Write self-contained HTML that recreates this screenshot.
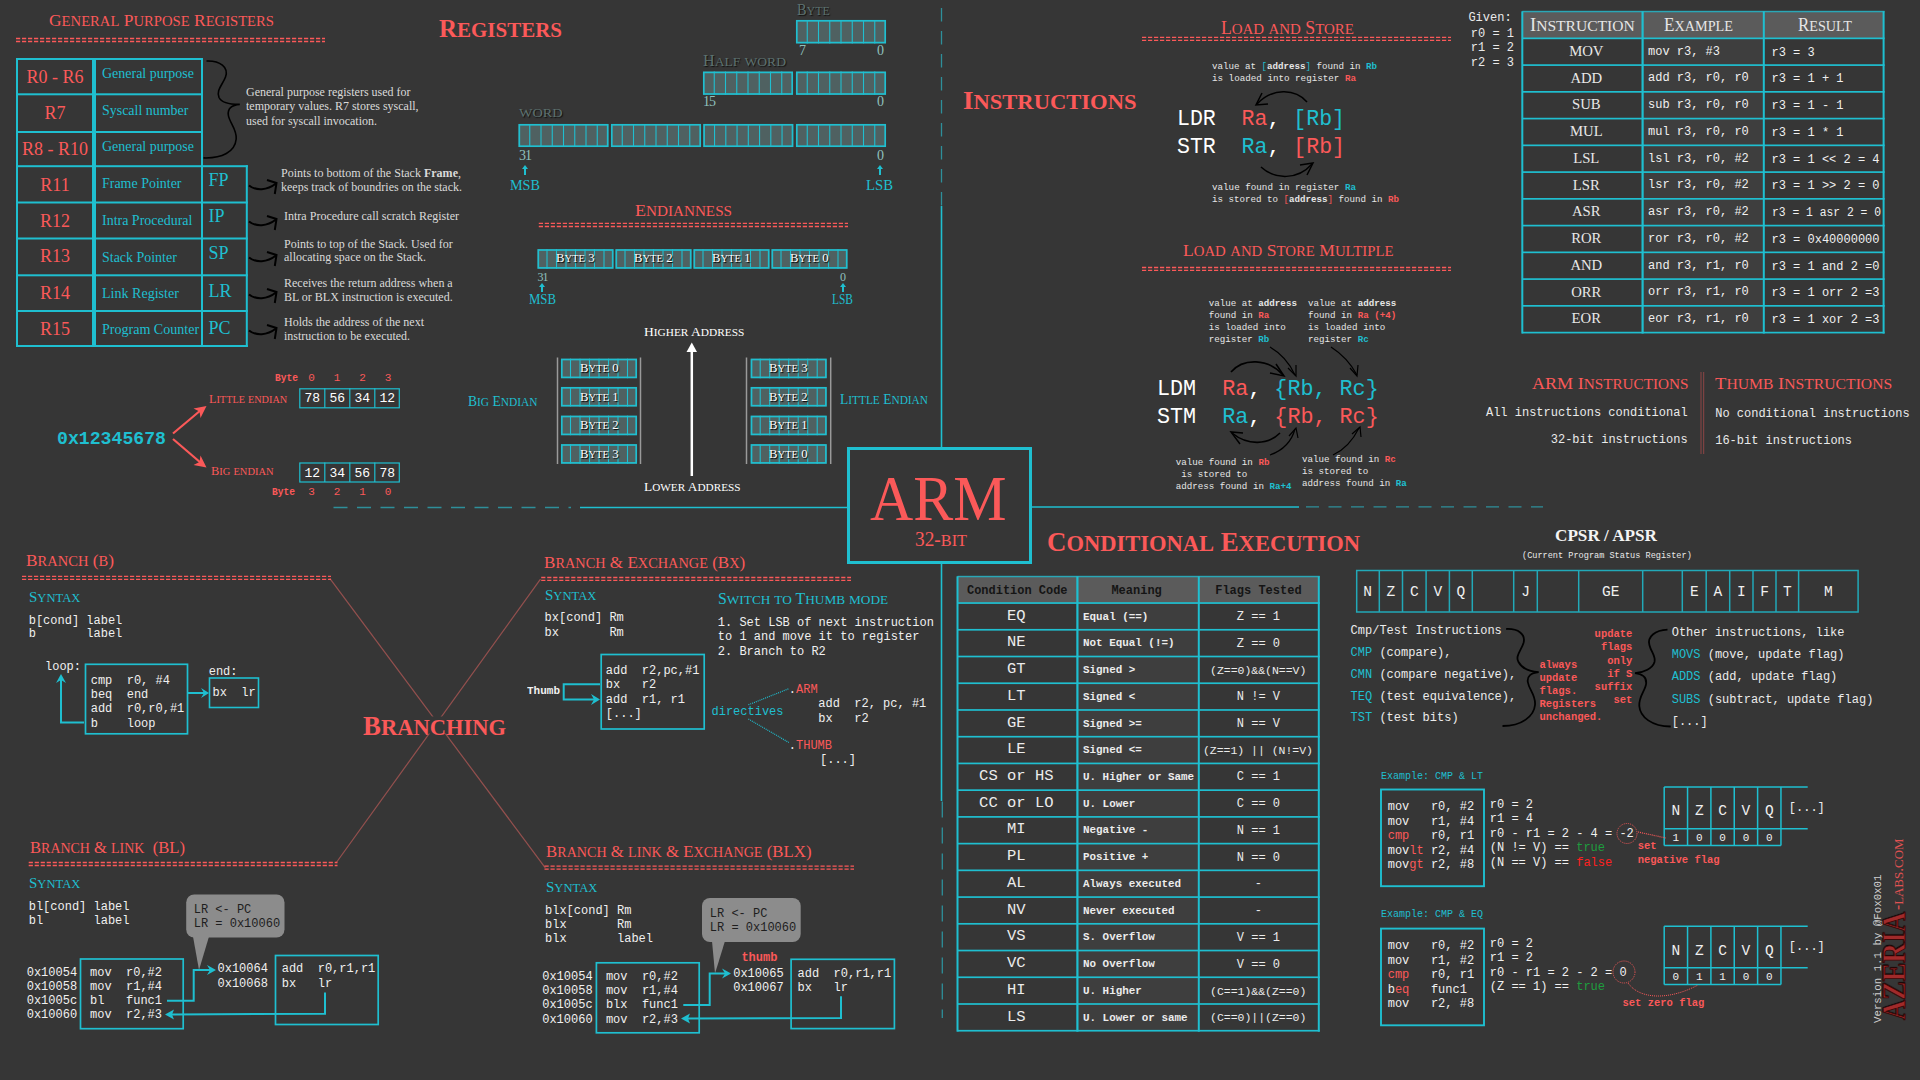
<!DOCTYPE html><html><head><meta charset="utf-8"><style>
html,body{margin:0;padding:0;width:1920px;height:1080px;overflow:hidden;background:#363636;}
.t{position:absolute;white-space:pre;transform-origin:0 0;}
.b{font-weight:bold}
</style></head><body>
<svg width="1920" height="1080" style="position:absolute;left:0;top:0">
<line x1="16" y1="38.5" x2="325" y2="38.5" stroke="#fb5959" stroke-width="1.3" stroke-dasharray="4.2 1.8"/>
<line x1="16" y1="41.5" x2="325" y2="41.5" stroke="#fb5959" stroke-width="1.3" stroke-dasharray="4.2 1.8"/>
<rect x="16" y="58" width="187" height="2" fill="#1fbfd0"/>
<rect x="16" y="93.3" width="187" height="2" fill="#1fbfd0"/>
<rect x="16" y="131" width="187" height="2" fill="#1fbfd0"/>
<rect x="16" y="165.2" width="231.8" height="2" fill="#1fbfd0"/>
<rect x="16" y="201.5" width="231.8" height="2" fill="#1fbfd0"/>
<rect x="16" y="237.5" width="231.8" height="2" fill="#1fbfd0"/>
<rect x="16" y="274.3" width="231.8" height="2" fill="#1fbfd0"/>
<rect x="16" y="310" width="231.8" height="2" fill="#1fbfd0"/>
<rect x="16" y="345" width="231.8" height="2" fill="#1fbfd0"/>
<rect x="16" y="58" width="2" height="289" fill="#1fbfd0"/>
<rect x="92" y="58" width="4" height="289" fill="#1fbfd0"/>
<rect x="201" y="58" width="2" height="289" fill="#1fbfd0"/>
<rect x="245.8" y="165.2" width="2" height="181.8" fill="#1fbfd0"/>
<path d="M206.5,61 C220,60.5 229,67 225.5,77 C222.5,85 216,90 219,97.5 C221.5,102.5 229,104.5 239.8,104.4 C232,105 227.5,108 228.3,115 C229.5,123 237,129 236.2,139 C235,152 222,158.5 203.5,157.9" stroke="#000" stroke-width="1.6" fill="none" />
<path d="M249,185.5 C256,191.0 267,190.5 276,183.5" stroke="#000" stroke-width="2.1" fill="none" />
<path d="M267,180.0 L276.5,183.0 L274.8,194.0" stroke="#000" stroke-width="2" fill="none" stroke-linejoin="miter"/>
<path d="M249,221.5 C256,227.0 267,226.5 276,219.5" stroke="#000" stroke-width="2.1" fill="none" />
<path d="M267,216.0 L276.5,219.0 L274.8,230.0" stroke="#000" stroke-width="2" fill="none" stroke-linejoin="miter"/>
<path d="M249,257.5 C256,263.0 267,262.5 276,255.5" stroke="#000" stroke-width="2.1" fill="none" />
<path d="M267,252.0 L276.5,255.0 L274.8,266.0" stroke="#000" stroke-width="2" fill="none" stroke-linejoin="miter"/>
<path d="M249,294.5 C256,300.0 267,299.5 276,292.5" stroke="#000" stroke-width="2.1" fill="none" />
<path d="M267,289.0 L276.5,292.0 L274.8,303.0" stroke="#000" stroke-width="2" fill="none" stroke-linejoin="miter"/>
<path d="M249,330.5 C256,336.0 267,335.5 276,328.5" stroke="#000" stroke-width="2.1" fill="none" />
<path d="M267,325.0 L276.5,328.0 L274.8,339.0" stroke="#000" stroke-width="2" fill="none" stroke-linejoin="miter"/>
<rect x="796" y="20" width="90" height="23.4" fill="#4f6161"/>
<line x1="807.25" y1="20" x2="807.25" y2="43.4" stroke="#1fbfd0" stroke-width="1.1" />
<line x1="818.5" y1="20" x2="818.5" y2="43.4" stroke="#1fbfd0" stroke-width="1.1" />
<line x1="829.75" y1="20" x2="829.75" y2="43.4" stroke="#1fbfd0" stroke-width="1.1" />
<line x1="841.0" y1="20" x2="841.0" y2="43.4" stroke="#1fbfd0" stroke-width="1.1" />
<line x1="852.25" y1="20" x2="852.25" y2="43.4" stroke="#1fbfd0" stroke-width="1.1" />
<line x1="863.5" y1="20" x2="863.5" y2="43.4" stroke="#1fbfd0" stroke-width="1.1" />
<line x1="874.75" y1="20" x2="874.75" y2="43.4" stroke="#1fbfd0" stroke-width="1.1" />
<rect x="796.8" y="20.8" width="88.4" height="21.799999999999997" fill="none" stroke="#1fbfd0" stroke-width="1.7" />
<rect x="703" y="71.6" width="90" height="23.2" fill="#4f6161"/>
<line x1="714.25" y1="71.6" x2="714.25" y2="94.8" stroke="#1fbfd0" stroke-width="1.1" />
<line x1="725.5" y1="71.6" x2="725.5" y2="94.8" stroke="#1fbfd0" stroke-width="1.1" />
<line x1="736.75" y1="71.6" x2="736.75" y2="94.8" stroke="#1fbfd0" stroke-width="1.1" />
<line x1="748.0" y1="71.6" x2="748.0" y2="94.8" stroke="#1fbfd0" stroke-width="1.1" />
<line x1="759.25" y1="71.6" x2="759.25" y2="94.8" stroke="#1fbfd0" stroke-width="1.1" />
<line x1="770.5" y1="71.6" x2="770.5" y2="94.8" stroke="#1fbfd0" stroke-width="1.1" />
<line x1="781.75" y1="71.6" x2="781.75" y2="94.8" stroke="#1fbfd0" stroke-width="1.1" />
<rect x="703.8" y="72.39999999999999" width="88.4" height="21.599999999999998" fill="none" stroke="#1fbfd0" stroke-width="1.7" />
<rect x="796" y="71.6" width="90" height="23.2" fill="#4f6161"/>
<line x1="807.25" y1="71.6" x2="807.25" y2="94.8" stroke="#1fbfd0" stroke-width="1.1" />
<line x1="818.5" y1="71.6" x2="818.5" y2="94.8" stroke="#1fbfd0" stroke-width="1.1" />
<line x1="829.75" y1="71.6" x2="829.75" y2="94.8" stroke="#1fbfd0" stroke-width="1.1" />
<line x1="841.0" y1="71.6" x2="841.0" y2="94.8" stroke="#1fbfd0" stroke-width="1.1" />
<line x1="852.25" y1="71.6" x2="852.25" y2="94.8" stroke="#1fbfd0" stroke-width="1.1" />
<line x1="863.5" y1="71.6" x2="863.5" y2="94.8" stroke="#1fbfd0" stroke-width="1.1" />
<line x1="874.75" y1="71.6" x2="874.75" y2="94.8" stroke="#1fbfd0" stroke-width="1.1" />
<rect x="796.8" y="72.39999999999999" width="88.4" height="21.599999999999998" fill="none" stroke="#1fbfd0" stroke-width="1.7" />
<rect x="518.5" y="124" width="90" height="23" fill="#4f6161"/>
<line x1="529.75" y1="124" x2="529.75" y2="147" stroke="#1fbfd0" stroke-width="1.1" />
<line x1="541.0" y1="124" x2="541.0" y2="147" stroke="#1fbfd0" stroke-width="1.1" />
<line x1="552.25" y1="124" x2="552.25" y2="147" stroke="#1fbfd0" stroke-width="1.1" />
<line x1="563.5" y1="124" x2="563.5" y2="147" stroke="#1fbfd0" stroke-width="1.1" />
<line x1="574.75" y1="124" x2="574.75" y2="147" stroke="#1fbfd0" stroke-width="1.1" />
<line x1="586.0" y1="124" x2="586.0" y2="147" stroke="#1fbfd0" stroke-width="1.1" />
<line x1="597.25" y1="124" x2="597.25" y2="147" stroke="#1fbfd0" stroke-width="1.1" />
<rect x="519.3" y="124.8" width="88.4" height="21.4" fill="none" stroke="#1fbfd0" stroke-width="1.7" />
<rect x="611" y="124" width="90" height="23" fill="#4f6161"/>
<line x1="622.25" y1="124" x2="622.25" y2="147" stroke="#1fbfd0" stroke-width="1.1" />
<line x1="633.5" y1="124" x2="633.5" y2="147" stroke="#1fbfd0" stroke-width="1.1" />
<line x1="644.75" y1="124" x2="644.75" y2="147" stroke="#1fbfd0" stroke-width="1.1" />
<line x1="656.0" y1="124" x2="656.0" y2="147" stroke="#1fbfd0" stroke-width="1.1" />
<line x1="667.25" y1="124" x2="667.25" y2="147" stroke="#1fbfd0" stroke-width="1.1" />
<line x1="678.5" y1="124" x2="678.5" y2="147" stroke="#1fbfd0" stroke-width="1.1" />
<line x1="689.75" y1="124" x2="689.75" y2="147" stroke="#1fbfd0" stroke-width="1.1" />
<rect x="611.8" y="124.8" width="88.4" height="21.4" fill="none" stroke="#1fbfd0" stroke-width="1.7" />
<rect x="703.3" y="124" width="90" height="23" fill="#4f6161"/>
<line x1="714.55" y1="124" x2="714.55" y2="147" stroke="#1fbfd0" stroke-width="1.1" />
<line x1="725.8" y1="124" x2="725.8" y2="147" stroke="#1fbfd0" stroke-width="1.1" />
<line x1="737.05" y1="124" x2="737.05" y2="147" stroke="#1fbfd0" stroke-width="1.1" />
<line x1="748.3" y1="124" x2="748.3" y2="147" stroke="#1fbfd0" stroke-width="1.1" />
<line x1="759.55" y1="124" x2="759.55" y2="147" stroke="#1fbfd0" stroke-width="1.1" />
<line x1="770.8" y1="124" x2="770.8" y2="147" stroke="#1fbfd0" stroke-width="1.1" />
<line x1="782.05" y1="124" x2="782.05" y2="147" stroke="#1fbfd0" stroke-width="1.1" />
<rect x="704.0999999999999" y="124.8" width="88.4" height="21.4" fill="none" stroke="#1fbfd0" stroke-width="1.7" />
<rect x="796" y="124" width="90" height="23" fill="#4f6161"/>
<line x1="807.25" y1="124" x2="807.25" y2="147" stroke="#1fbfd0" stroke-width="1.1" />
<line x1="818.5" y1="124" x2="818.5" y2="147" stroke="#1fbfd0" stroke-width="1.1" />
<line x1="829.75" y1="124" x2="829.75" y2="147" stroke="#1fbfd0" stroke-width="1.1" />
<line x1="841.0" y1="124" x2="841.0" y2="147" stroke="#1fbfd0" stroke-width="1.1" />
<line x1="852.25" y1="124" x2="852.25" y2="147" stroke="#1fbfd0" stroke-width="1.1" />
<line x1="863.5" y1="124" x2="863.5" y2="147" stroke="#1fbfd0" stroke-width="1.1" />
<line x1="874.75" y1="124" x2="874.75" y2="147" stroke="#1fbfd0" stroke-width="1.1" />
<rect x="796.8" y="124.8" width="88.4" height="21.4" fill="none" stroke="#1fbfd0" stroke-width="1.7" />
<line x1="525" y1="168" x2="525" y2="175" stroke="#1fbfd0" stroke-width="2" />
<path d="M522,169 L525,165 L528,169 Z" stroke="none" stroke-width="1" fill="#1fbfd0" />
<line x1="880" y1="168" x2="880" y2="175" stroke="#1fbfd0" stroke-width="2" />
<path d="M877,169 L880,165 L883,169 Z" stroke="none" stroke-width="1" fill="#1fbfd0" />
<line x1="538.8" y1="223.4" x2="848" y2="223.4" stroke="#fb5959" stroke-width="1.3" stroke-dasharray="4.2 1.8"/>
<line x1="538.8" y1="226.5" x2="848" y2="226.5" stroke="#fb5959" stroke-width="1.3" stroke-dasharray="4.2 1.8"/>
<rect x="537.5" y="249.2" width="76" height="19.5" fill="#4f6161"/>
<line x1="547.0" y1="249.2" x2="547.0" y2="268.7" stroke="#1fbfd0" stroke-width="1.1" />
<line x1="556.5" y1="249.2" x2="556.5" y2="268.7" stroke="#1fbfd0" stroke-width="1.1" />
<line x1="566.0" y1="249.2" x2="566.0" y2="268.7" stroke="#1fbfd0" stroke-width="1.1" />
<line x1="575.5" y1="249.2" x2="575.5" y2="268.7" stroke="#1fbfd0" stroke-width="1.1" />
<line x1="585.0" y1="249.2" x2="585.0" y2="268.7" stroke="#1fbfd0" stroke-width="1.1" />
<line x1="594.5" y1="249.2" x2="594.5" y2="268.7" stroke="#1fbfd0" stroke-width="1.1" />
<line x1="604.0" y1="249.2" x2="604.0" y2="268.7" stroke="#1fbfd0" stroke-width="1.1" />
<rect x="538.3" y="250.0" width="74.4" height="17.9" fill="none" stroke="#1fbfd0" stroke-width="1.7" />
<rect x="615.5" y="249.2" width="76" height="19.5" fill="#4f6161"/>
<line x1="625.0" y1="249.2" x2="625.0" y2="268.7" stroke="#1fbfd0" stroke-width="1.1" />
<line x1="634.5" y1="249.2" x2="634.5" y2="268.7" stroke="#1fbfd0" stroke-width="1.1" />
<line x1="644.0" y1="249.2" x2="644.0" y2="268.7" stroke="#1fbfd0" stroke-width="1.1" />
<line x1="653.5" y1="249.2" x2="653.5" y2="268.7" stroke="#1fbfd0" stroke-width="1.1" />
<line x1="663.0" y1="249.2" x2="663.0" y2="268.7" stroke="#1fbfd0" stroke-width="1.1" />
<line x1="672.5" y1="249.2" x2="672.5" y2="268.7" stroke="#1fbfd0" stroke-width="1.1" />
<line x1="682.0" y1="249.2" x2="682.0" y2="268.7" stroke="#1fbfd0" stroke-width="1.1" />
<rect x="616.3" y="250.0" width="74.4" height="17.9" fill="none" stroke="#1fbfd0" stroke-width="1.7" />
<rect x="693.5" y="249.2" width="76" height="19.5" fill="#4f6161"/>
<line x1="703.0" y1="249.2" x2="703.0" y2="268.7" stroke="#1fbfd0" stroke-width="1.1" />
<line x1="712.5" y1="249.2" x2="712.5" y2="268.7" stroke="#1fbfd0" stroke-width="1.1" />
<line x1="722.0" y1="249.2" x2="722.0" y2="268.7" stroke="#1fbfd0" stroke-width="1.1" />
<line x1="731.5" y1="249.2" x2="731.5" y2="268.7" stroke="#1fbfd0" stroke-width="1.1" />
<line x1="741.0" y1="249.2" x2="741.0" y2="268.7" stroke="#1fbfd0" stroke-width="1.1" />
<line x1="750.5" y1="249.2" x2="750.5" y2="268.7" stroke="#1fbfd0" stroke-width="1.1" />
<line x1="760.0" y1="249.2" x2="760.0" y2="268.7" stroke="#1fbfd0" stroke-width="1.1" />
<rect x="694.3" y="250.0" width="74.4" height="17.9" fill="none" stroke="#1fbfd0" stroke-width="1.7" />
<rect x="771.5" y="249.2" width="76" height="19.5" fill="#4f6161"/>
<line x1="781.0" y1="249.2" x2="781.0" y2="268.7" stroke="#1fbfd0" stroke-width="1.1" />
<line x1="790.5" y1="249.2" x2="790.5" y2="268.7" stroke="#1fbfd0" stroke-width="1.1" />
<line x1="800.0" y1="249.2" x2="800.0" y2="268.7" stroke="#1fbfd0" stroke-width="1.1" />
<line x1="809.5" y1="249.2" x2="809.5" y2="268.7" stroke="#1fbfd0" stroke-width="1.1" />
<line x1="819.0" y1="249.2" x2="819.0" y2="268.7" stroke="#1fbfd0" stroke-width="1.1" />
<line x1="828.5" y1="249.2" x2="828.5" y2="268.7" stroke="#1fbfd0" stroke-width="1.1" />
<line x1="838.0" y1="249.2" x2="838.0" y2="268.7" stroke="#1fbfd0" stroke-width="1.1" />
<rect x="772.3" y="250.0" width="74.4" height="17.9" fill="none" stroke="#1fbfd0" stroke-width="1.7" />
<line x1="542" y1="286" x2="542" y2="292" stroke="#1fbfd0" stroke-width="2" />
<path d="M539,287 L542,283 L545,287 Z" stroke="none" stroke-width="1" fill="#1fbfd0" />
<line x1="843" y1="286" x2="843" y2="292" stroke="#1fbfd0" stroke-width="2" />
<path d="M840,287 L843,283 L846,287 Z" stroke="none" stroke-width="1" fill="#1fbfd0" />
<line x1="691.8" y1="350" x2="691.8" y2="476" stroke="#fff" stroke-width="2.5" />
<path d="M686.5,352 L691.8,342.5 L697,352 Z" stroke="none" stroke-width="1" fill="#fff" />
<line x1="557.5" y1="357.5" x2="557.5" y2="464" stroke="#9a9a9a" stroke-width="1.5" />
<line x1="640.5" y1="357.5" x2="640.5" y2="464" stroke="#9a9a9a" stroke-width="1.5" />
<rect x="561" y="358.7" width="76" height="19.5" fill="#4f6161"/>
<line x1="570.5" y1="358.7" x2="570.5" y2="378.2" stroke="#1fbfd0" stroke-width="1.1" />
<line x1="580.0" y1="358.7" x2="580.0" y2="378.2" stroke="#1fbfd0" stroke-width="1.1" />
<line x1="589.5" y1="358.7" x2="589.5" y2="378.2" stroke="#1fbfd0" stroke-width="1.1" />
<line x1="599.0" y1="358.7" x2="599.0" y2="378.2" stroke="#1fbfd0" stroke-width="1.1" />
<line x1="608.5" y1="358.7" x2="608.5" y2="378.2" stroke="#1fbfd0" stroke-width="1.1" />
<line x1="618.0" y1="358.7" x2="618.0" y2="378.2" stroke="#1fbfd0" stroke-width="1.1" />
<line x1="627.5" y1="358.7" x2="627.5" y2="378.2" stroke="#1fbfd0" stroke-width="1.1" />
<rect x="561.8" y="359.5" width="74.4" height="17.9" fill="none" stroke="#1fbfd0" stroke-width="1.7" />
<rect x="561" y="387" width="76" height="19.5" fill="#4f6161"/>
<line x1="570.5" y1="387" x2="570.5" y2="406.5" stroke="#1fbfd0" stroke-width="1.1" />
<line x1="580.0" y1="387" x2="580.0" y2="406.5" stroke="#1fbfd0" stroke-width="1.1" />
<line x1="589.5" y1="387" x2="589.5" y2="406.5" stroke="#1fbfd0" stroke-width="1.1" />
<line x1="599.0" y1="387" x2="599.0" y2="406.5" stroke="#1fbfd0" stroke-width="1.1" />
<line x1="608.5" y1="387" x2="608.5" y2="406.5" stroke="#1fbfd0" stroke-width="1.1" />
<line x1="618.0" y1="387" x2="618.0" y2="406.5" stroke="#1fbfd0" stroke-width="1.1" />
<line x1="627.5" y1="387" x2="627.5" y2="406.5" stroke="#1fbfd0" stroke-width="1.1" />
<rect x="561.8" y="387.8" width="74.4" height="17.9" fill="none" stroke="#1fbfd0" stroke-width="1.7" />
<rect x="561" y="415.7" width="76" height="19.5" fill="#4f6161"/>
<line x1="570.5" y1="415.7" x2="570.5" y2="435.2" stroke="#1fbfd0" stroke-width="1.1" />
<line x1="580.0" y1="415.7" x2="580.0" y2="435.2" stroke="#1fbfd0" stroke-width="1.1" />
<line x1="589.5" y1="415.7" x2="589.5" y2="435.2" stroke="#1fbfd0" stroke-width="1.1" />
<line x1="599.0" y1="415.7" x2="599.0" y2="435.2" stroke="#1fbfd0" stroke-width="1.1" />
<line x1="608.5" y1="415.7" x2="608.5" y2="435.2" stroke="#1fbfd0" stroke-width="1.1" />
<line x1="618.0" y1="415.7" x2="618.0" y2="435.2" stroke="#1fbfd0" stroke-width="1.1" />
<line x1="627.5" y1="415.7" x2="627.5" y2="435.2" stroke="#1fbfd0" stroke-width="1.1" />
<rect x="561.8" y="416.5" width="74.4" height="17.9" fill="none" stroke="#1fbfd0" stroke-width="1.7" />
<rect x="561" y="444.2" width="76" height="19.5" fill="#4f6161"/>
<line x1="570.5" y1="444.2" x2="570.5" y2="463.7" stroke="#1fbfd0" stroke-width="1.1" />
<line x1="580.0" y1="444.2" x2="580.0" y2="463.7" stroke="#1fbfd0" stroke-width="1.1" />
<line x1="589.5" y1="444.2" x2="589.5" y2="463.7" stroke="#1fbfd0" stroke-width="1.1" />
<line x1="599.0" y1="444.2" x2="599.0" y2="463.7" stroke="#1fbfd0" stroke-width="1.1" />
<line x1="608.5" y1="444.2" x2="608.5" y2="463.7" stroke="#1fbfd0" stroke-width="1.1" />
<line x1="618.0" y1="444.2" x2="618.0" y2="463.7" stroke="#1fbfd0" stroke-width="1.1" />
<line x1="627.5" y1="444.2" x2="627.5" y2="463.7" stroke="#1fbfd0" stroke-width="1.1" />
<rect x="561.8" y="445.0" width="74.4" height="17.9" fill="none" stroke="#1fbfd0" stroke-width="1.7" />
<line x1="746.5" y1="357.5" x2="746.5" y2="464" stroke="#9a9a9a" stroke-width="1.5" />
<line x1="830.7" y1="357.5" x2="830.7" y2="464" stroke="#9a9a9a" stroke-width="1.5" />
<rect x="750.7" y="358.7" width="76" height="19.5" fill="#4f6161"/>
<line x1="760.2" y1="358.7" x2="760.2" y2="378.2" stroke="#1fbfd0" stroke-width="1.1" />
<line x1="769.7" y1="358.7" x2="769.7" y2="378.2" stroke="#1fbfd0" stroke-width="1.1" />
<line x1="779.2" y1="358.7" x2="779.2" y2="378.2" stroke="#1fbfd0" stroke-width="1.1" />
<line x1="788.7" y1="358.7" x2="788.7" y2="378.2" stroke="#1fbfd0" stroke-width="1.1" />
<line x1="798.2" y1="358.7" x2="798.2" y2="378.2" stroke="#1fbfd0" stroke-width="1.1" />
<line x1="807.7" y1="358.7" x2="807.7" y2="378.2" stroke="#1fbfd0" stroke-width="1.1" />
<line x1="817.2" y1="358.7" x2="817.2" y2="378.2" stroke="#1fbfd0" stroke-width="1.1" />
<rect x="751.5" y="359.5" width="74.4" height="17.9" fill="none" stroke="#1fbfd0" stroke-width="1.7" />
<rect x="750.7" y="387" width="76" height="19.5" fill="#4f6161"/>
<line x1="760.2" y1="387" x2="760.2" y2="406.5" stroke="#1fbfd0" stroke-width="1.1" />
<line x1="769.7" y1="387" x2="769.7" y2="406.5" stroke="#1fbfd0" stroke-width="1.1" />
<line x1="779.2" y1="387" x2="779.2" y2="406.5" stroke="#1fbfd0" stroke-width="1.1" />
<line x1="788.7" y1="387" x2="788.7" y2="406.5" stroke="#1fbfd0" stroke-width="1.1" />
<line x1="798.2" y1="387" x2="798.2" y2="406.5" stroke="#1fbfd0" stroke-width="1.1" />
<line x1="807.7" y1="387" x2="807.7" y2="406.5" stroke="#1fbfd0" stroke-width="1.1" />
<line x1="817.2" y1="387" x2="817.2" y2="406.5" stroke="#1fbfd0" stroke-width="1.1" />
<rect x="751.5" y="387.8" width="74.4" height="17.9" fill="none" stroke="#1fbfd0" stroke-width="1.7" />
<rect x="750.7" y="415.7" width="76" height="19.5" fill="#4f6161"/>
<line x1="760.2" y1="415.7" x2="760.2" y2="435.2" stroke="#1fbfd0" stroke-width="1.1" />
<line x1="769.7" y1="415.7" x2="769.7" y2="435.2" stroke="#1fbfd0" stroke-width="1.1" />
<line x1="779.2" y1="415.7" x2="779.2" y2="435.2" stroke="#1fbfd0" stroke-width="1.1" />
<line x1="788.7" y1="415.7" x2="788.7" y2="435.2" stroke="#1fbfd0" stroke-width="1.1" />
<line x1="798.2" y1="415.7" x2="798.2" y2="435.2" stroke="#1fbfd0" stroke-width="1.1" />
<line x1="807.7" y1="415.7" x2="807.7" y2="435.2" stroke="#1fbfd0" stroke-width="1.1" />
<line x1="817.2" y1="415.7" x2="817.2" y2="435.2" stroke="#1fbfd0" stroke-width="1.1" />
<rect x="751.5" y="416.5" width="74.4" height="17.9" fill="none" stroke="#1fbfd0" stroke-width="1.7" />
<rect x="750.7" y="444.2" width="76" height="19.5" fill="#4f6161"/>
<line x1="760.2" y1="444.2" x2="760.2" y2="463.7" stroke="#1fbfd0" stroke-width="1.1" />
<line x1="769.7" y1="444.2" x2="769.7" y2="463.7" stroke="#1fbfd0" stroke-width="1.1" />
<line x1="779.2" y1="444.2" x2="779.2" y2="463.7" stroke="#1fbfd0" stroke-width="1.1" />
<line x1="788.7" y1="444.2" x2="788.7" y2="463.7" stroke="#1fbfd0" stroke-width="1.1" />
<line x1="798.2" y1="444.2" x2="798.2" y2="463.7" stroke="#1fbfd0" stroke-width="1.1" />
<line x1="807.7" y1="444.2" x2="807.7" y2="463.7" stroke="#1fbfd0" stroke-width="1.1" />
<line x1="817.2" y1="444.2" x2="817.2" y2="463.7" stroke="#1fbfd0" stroke-width="1.1" />
<rect x="751.5" y="445.0" width="74.4" height="17.9" fill="none" stroke="#1fbfd0" stroke-width="1.7" />
<path d="M173,433.5 L201,410" stroke="#fb5959" stroke-width="2.2" fill="none" />
<path d="M193.5,408.5 L206.5,406 L200.5,418 L199.5,411.5 Z" stroke="none" stroke-width="1" fill="#fb5959" />
<path d="M173,439 L201,463" stroke="#fb5959" stroke-width="2.2" fill="none" />
<path d="M193.5,465 L206.5,467.5 L200.5,455.5 L199.5,462 Z" stroke="none" stroke-width="1" fill="#fb5959" />
<rect x="299.8" y="388.8" width="99.5" height="19" fill="none" stroke="#1fbfd0" stroke-width="1.2" />
<line x1="324.8" y1="388.3" x2="324.8" y2="407.8" stroke="#1fbfd0" stroke-width="1.2" />
<line x1="349.8" y1="388.3" x2="349.8" y2="407.8" stroke="#1fbfd0" stroke-width="1.2" />
<line x1="374.8" y1="388.3" x2="374.8" y2="407.8" stroke="#1fbfd0" stroke-width="1.2" />
<rect x="299.8" y="463.0" width="99.5" height="19" fill="none" stroke="#1fbfd0" stroke-width="1.2" />
<line x1="324.8" y1="462.5" x2="324.8" y2="482.0" stroke="#1fbfd0" stroke-width="1.2" />
<line x1="349.8" y1="462.5" x2="349.8" y2="482.0" stroke="#1fbfd0" stroke-width="1.2" />
<line x1="374.8" y1="462.5" x2="374.8" y2="482.0" stroke="#1fbfd0" stroke-width="1.2" />
<line x1="333.5" y1="507.5" x2="571" y2="507.5" stroke="#2e8f9a" stroke-width="1.3" stroke-dasharray="14 9.5"/>
<line x1="580" y1="507.5" x2="847" y2="507.5" stroke="#1fbfd0" stroke-width="1.6" />
<line x1="1032" y1="507" x2="1299" y2="507" stroke="#1fbfd0" stroke-width="1.6" />
<line x1="1306" y1="506.8" x2="1543" y2="506.8" stroke="#2e8f9a" stroke-width="1.3" stroke-dasharray="13 9.5"/>
<line x1="941.5" y1="205.5" x2="941.5" y2="0" stroke="#2e8f9a" stroke-width="1.3" stroke-dasharray="13.5 9.5"/>
<line x1="941.5" y1="206" x2="941.5" y2="447" stroke="#1fbfd0" stroke-width="1.6" />
<line x1="941.5" y1="564" x2="941.5" y2="801" stroke="#1fbfd0" stroke-width="1.6" />
<line x1="942.3" y1="801.5" x2="942.3" y2="1018" stroke="#2e8f9a" stroke-width="1.3" stroke-dasharray="16 10"/>
<rect x="847" y="447" width="185" height="117" fill="#363636"/>
<rect x="848.5" y="448.5" width="182" height="114" fill="none" stroke="#1fbfd0" stroke-width="3" />
<line x1="1142" y1="37.4" x2="1451" y2="37.4" stroke="#fb5959" stroke-width="1.3" stroke-dasharray="4.2 1.8"/>
<line x1="1142" y1="40.4" x2="1451" y2="40.4" stroke="#fb5959" stroke-width="1.3" stroke-dasharray="4.2 1.8"/>
<path d="M1307,102 C1295,88 1272,88 1257,104" stroke="#000" stroke-width="1.5" fill="none" />
<path d="M1262,93 L1256,105 L1268,104" stroke="#000" stroke-width="1.5" fill="none" />
<path d="M1261,167 C1275,180 1298,180 1312,164" stroke="#000" stroke-width="1.5" fill="none" />
<path d="M1300,165 L1313,163 L1307,175" stroke="#000" stroke-width="1.5" fill="none" />
<line x1="1142" y1="267.5" x2="1451" y2="267.5" stroke="#fb5959" stroke-width="1.3" stroke-dasharray="4.2 1.8"/>
<line x1="1142" y1="270.3" x2="1451" y2="270.3" stroke="#fb5959" stroke-width="1.3" stroke-dasharray="4.2 1.8"/>
<path d="M1231,372 C1243,358 1268,358 1283,375" stroke="#000" stroke-width="1.6" fill="none" />
<path d="M1270,373 L1284,376 L1276,364" stroke="#000" stroke-width="1.5" fill="none" />
<path d="M1270,347 C1282,354 1290,364 1295,375" stroke="#000" stroke-width="1.2" fill="none" />
<path d="M1288,368 L1296,376 L1296,365" stroke="#000" stroke-width="1.2" fill="none" />
<path d="M1331,347 C1342,354 1350,362 1357,375" stroke="#000" stroke-width="1.2" fill="none" />
<path d="M1350,368 L1357,376 L1358,365" stroke="#000" stroke-width="1.2" fill="none" />
<path d="M1280,433 C1268,445 1248,446 1232,433" stroke="#000" stroke-width="1.6" fill="none" />
<path d="M1240,444 L1231,432 L1243,433" stroke="#000" stroke-width="1.5" fill="none" />
<path d="M1270,455 C1284,450 1292,440 1295,429" stroke="#000" stroke-width="1.2" fill="none" />
<path d="M1289,436 L1296,428 L1298,438" stroke="#000" stroke-width="1.2" fill="none" />
<path d="M1333,455 C1344,450 1353,440 1359,428" stroke="#000" stroke-width="1.2" fill="none" />
<path d="M1352,434 L1360,427 L1361,437" stroke="#000" stroke-width="1.2" fill="none" />
<rect x="1522.3" y="11.3" width="361.29999999999995" height="26.999999999999996" fill="#5b5b5b"/>
<rect x="1642.5" y="38.3" width="121.29999999999995" height="294.25" fill="#3e3e3e"/>
<rect x="1522.3" y="37.5" width="362.29999999999995" height="1.7" fill="#1fbfd0"/>
<rect x="1522.3" y="64.25" width="362.29999999999995" height="1.7" fill="#1fbfd0"/>
<rect x="1522.3" y="91.0" width="362.29999999999995" height="1.7" fill="#1fbfd0"/>
<rect x="1522.3" y="117.75" width="362.29999999999995" height="1.7" fill="#1fbfd0"/>
<rect x="1522.3" y="144.5" width="362.29999999999995" height="1.7" fill="#1fbfd0"/>
<rect x="1522.3" y="171.25" width="362.29999999999995" height="1.7" fill="#1fbfd0"/>
<rect x="1522.3" y="198.0" width="362.29999999999995" height="1.7" fill="#1fbfd0"/>
<rect x="1522.3" y="224.75" width="362.29999999999995" height="1.7" fill="#1fbfd0"/>
<rect x="1522.3" y="251.5" width="362.29999999999995" height="1.7" fill="#1fbfd0"/>
<rect x="1522.3" y="278.25" width="362.29999999999995" height="1.7" fill="#1fbfd0"/>
<rect x="1522.3" y="305.0" width="362.29999999999995" height="1.7" fill="#1fbfd0"/>
<rect x="1522.3" y="331.75" width="362.29999999999995" height="1.7" fill="#1fbfd0"/>
<rect x="1522.3" y="10.8" width="362.29999999999995" height="1.5" fill="#2aa7b6"/>
<rect x="1521.3" y="11.3" width="2" height="322.25" fill="#1fbfd0"/>
<rect x="1882.6" y="11.3" width="2" height="322.25" fill="#1fbfd0"/>
<rect x="1641.5" y="11.3" width="2.2" height="322.25" fill="#1fbfd0"/>
<rect x="1762.8" y="11.3" width="2" height="322.25" fill="#1fbfd0"/>
<line x1="1701" y1="372.5" x2="1701" y2="454.5" stroke="#fb5959" stroke-width="0.9" stroke-dasharray="1 1"/>
<line x1="1703.7" y1="372.5" x2="1703.7" y2="454.5" stroke="#fb5959" stroke-width="0.9" stroke-dasharray="1 1"/>
<line x1="329.8" y1="578.3" x2="545.3" y2="867.8" stroke="#94504e" stroke-width="1.2" />
<line x1="540.5" y1="579.2" x2="336" y2="863" stroke="#94504e" stroke-width="1.2" />
<rect x="362" y="716.5" width="144" height="17" fill="#363636"/>
<line x1="22" y1="576.3" x2="331" y2="576.3" stroke="#fb5959" stroke-width="1.3" stroke-dasharray="4.2 1.8"/>
<line x1="22" y1="579.3" x2="331" y2="579.3" stroke="#fb5959" stroke-width="1.3" stroke-dasharray="4.2 1.8"/>
<rect x="85.5" y="664.3" width="102" height="69.5" fill="none" stroke="#1fbfd0" stroke-width="1.7" />
<rect x="209.5" y="678" width="49" height="29.5" fill="none" stroke="#1fbfd0" stroke-width="1.6" />
<line x1="188" y1="693" x2="204" y2="693" stroke="#1fbfd0" stroke-width="2" />
<path d="M201,688 L209,693 L201,698 L204,693 Z" stroke="none" stroke-width="1" fill="#1fbfd0" />
<path d="M84,722.5 L61,722.5 L61,680" stroke="#1fbfd0" stroke-width="2" fill="none" />
<path d="M56,683 L61,674 L66,683 L61,680 Z" stroke="none" stroke-width="1" fill="#1fbfd0" />
<line x1="28.7" y1="862.5" x2="337.5" y2="862.5" stroke="#fb5959" stroke-width="1.3" stroke-dasharray="4.2 1.8"/>
<line x1="28.7" y1="865.5" x2="337.5" y2="865.5" stroke="#fb5959" stroke-width="1.3" stroke-dasharray="4.2 1.8"/>
<path d="M193,936.5 L199,970 L209,936.5 Z" stroke="none" stroke-width="1" fill="#8c8c8c" />
<rect x="186.2" y="894.5" width="98.3" height="43" fill="#8c8c8c" rx="8" ry="8"/>
<rect x="80.5" y="959" width="102.7" height="69.7" fill="none" stroke="#1fbfd0" stroke-width="1.7" />
<rect x="275.5" y="955.5" width="102.7" height="69" fill="none" stroke="#1fbfd0" stroke-width="1.7" />
<path d="M167,1000.7 L193.7,1000.7 L193.7,970 L210,970" stroke="#1fbfd0" stroke-width="2" fill="none" />
<path d="M207,965 L216,970 L207,975 L210,970 Z" stroke="none" stroke-width="1" fill="#1fbfd0" />
<path d="M325,992.5 L325,1013.7 L172,1014.5" stroke="#1fbfd0" stroke-width="2" fill="none" />
<path d="M174,1009.5 L165,1014.5 L174,1019.5 L172,1014.5 Z" stroke="none" stroke-width="1" fill="#1fbfd0" />
<line x1="541.2" y1="577.5" x2="851" y2="577.5" stroke="#fb5959" stroke-width="1.3" stroke-dasharray="4.2 1.8"/>
<line x1="541.2" y1="580.3" x2="851" y2="580.3" stroke="#fb5959" stroke-width="1.3" stroke-dasharray="4.2 1.8"/>
<rect x="601.2" y="654.5" width="103" height="74.5" fill="none" stroke="#1fbfd0" stroke-width="1.7" />
<path d="M600,684.2 L563.7,684.2 L563.7,699.5 L594,699.5" stroke="#1fbfd0" stroke-width="2" fill="none" />
<path d="M591,694 L600,699.5 L591,705 L594,699.5 Z" stroke="none" stroke-width="1" fill="#1fbfd0" />
<line x1="748.4" y1="704.8" x2="788.8" y2="688.7" stroke="#1fbfd0" stroke-width="1.2" stroke-dasharray="1 1"/>
<line x1="748.4" y1="719" x2="788.8" y2="742.5" stroke="#1fbfd0" stroke-width="1.2" stroke-dasharray="1 1"/>
<line x1="544.5" y1="866.2" x2="854" y2="866.2" stroke="#fb5959" stroke-width="1.3" stroke-dasharray="4.2 1.8"/>
<line x1="544.5" y1="869.2" x2="854" y2="869.2" stroke="#fb5959" stroke-width="1.3" stroke-dasharray="4.2 1.8"/>
<path d="M712,941 L715,973.5 L725,941 Z" stroke="none" stroke-width="1" fill="#8c8c8c" />
<rect x="702" y="898" width="98.7" height="44" fill="#8c8c8c" rx="8" ry="8"/>
<rect x="596.4" y="962.8" width="102.8" height="70" fill="none" stroke="#1fbfd0" stroke-width="1.7" />
<rect x="791.1" y="959.3" width="103.3" height="69.3" fill="none" stroke="#1fbfd0" stroke-width="1.7" />
<path d="M683.3,1005.1 L709.7,1005.1 L709.7,973.5 L725,973.5" stroke="#1fbfd0" stroke-width="2" fill="none" />
<path d="M722,968.5 L731,973.5 L722,978.5 L725,973.5 Z" stroke="none" stroke-width="1" fill="#1fbfd0" />
<path d="M841,996.2 L841,1018 L688,1018.5" stroke="#1fbfd0" stroke-width="2" fill="none" />
<path d="M690,1013.5 L681,1018.5 L690,1023.5 L688,1018.5 Z" stroke="none" stroke-width="1" fill="#1fbfd0" />
<rect x="957.5" y="576.3" width="361.29999999999995" height="26.700000000000045" fill="#5b5b5b"/>
<rect x="1077.3" y="603" width="121.5" height="427.68" fill="#3e3e3e"/>
<rect x="957.5" y="602.2" width="362.29999999999995" height="1.7" fill="#1fbfd0"/>
<rect x="957.5" y="628.9300000000001" width="362.29999999999995" height="1.7" fill="#1fbfd0"/>
<rect x="957.5" y="655.6600000000001" width="362.29999999999995" height="1.7" fill="#1fbfd0"/>
<rect x="957.5" y="682.3900000000001" width="362.29999999999995" height="1.7" fill="#1fbfd0"/>
<rect x="957.5" y="709.12" width="362.29999999999995" height="1.7" fill="#1fbfd0"/>
<rect x="957.5" y="735.85" width="362.29999999999995" height="1.7" fill="#1fbfd0"/>
<rect x="957.5" y="762.58" width="362.29999999999995" height="1.7" fill="#1fbfd0"/>
<rect x="957.5" y="789.3100000000001" width="362.29999999999995" height="1.7" fill="#1fbfd0"/>
<rect x="957.5" y="816.0400000000001" width="362.29999999999995" height="1.7" fill="#1fbfd0"/>
<rect x="957.5" y="842.77" width="362.29999999999995" height="1.7" fill="#1fbfd0"/>
<rect x="957.5" y="869.5" width="362.29999999999995" height="1.7" fill="#1fbfd0"/>
<rect x="957.5" y="896.23" width="362.29999999999995" height="1.7" fill="#1fbfd0"/>
<rect x="957.5" y="922.96" width="362.29999999999995" height="1.7" fill="#1fbfd0"/>
<rect x="957.5" y="949.69" width="362.29999999999995" height="1.7" fill="#1fbfd0"/>
<rect x="957.5" y="976.4200000000001" width="362.29999999999995" height="1.7" fill="#1fbfd0"/>
<rect x="957.5" y="1003.1500000000001" width="362.29999999999995" height="1.7" fill="#1fbfd0"/>
<rect x="957.5" y="1029.88" width="362.29999999999995" height="1.7" fill="#1fbfd0"/>
<rect x="957.5" y="575.8" width="362.29999999999995" height="1.5" fill="#2aa7b6"/>
<rect x="956.5" y="576.3" width="2" height="455.3800000000001" fill="#1fbfd0"/>
<rect x="1317.8" y="576.3" width="2" height="455.3800000000001" fill="#1fbfd0"/>
<rect x="1076.3" y="576.3" width="2.2" height="455.3800000000001" fill="#1fbfd0"/>
<rect x="1197.8" y="576.3" width="2" height="455.3800000000001" fill="#1fbfd0"/>
<rect x="1356.7" y="570.5" width="501.39999999999986" height="41.5" fill="none" stroke="#22a9b8" stroke-width="1.5" />
<line x1="1379.3" y1="570" x2="1379.3" y2="612" stroke="#22a9b8" stroke-width="1.5" />
<line x1="1402.5" y1="570" x2="1402.5" y2="612" stroke="#22a9b8" stroke-width="1.5" />
<line x1="1426.1" y1="570" x2="1426.1" y2="612" stroke="#22a9b8" stroke-width="1.5" />
<line x1="1449.4" y1="570" x2="1449.4" y2="612" stroke="#22a9b8" stroke-width="1.5" />
<line x1="1472.3" y1="570" x2="1472.3" y2="612" stroke="#22a9b8" stroke-width="1.5" />
<line x1="1513.7" y1="570" x2="1513.7" y2="612" stroke="#22a9b8" stroke-width="1.5" />
<line x1="1537.3" y1="570" x2="1537.3" y2="612" stroke="#22a9b8" stroke-width="1.5" />
<line x1="1578.7" y1="570" x2="1578.7" y2="612" stroke="#22a9b8" stroke-width="1.5" />
<line x1="1642.7" y1="570" x2="1642.7" y2="612" stroke="#22a9b8" stroke-width="1.5" />
<line x1="1682.3" y1="570" x2="1682.3" y2="612" stroke="#22a9b8" stroke-width="1.5" />
<line x1="1706.2" y1="570" x2="1706.2" y2="612" stroke="#22a9b8" stroke-width="1.5" />
<line x1="1729.7" y1="570" x2="1729.7" y2="612" stroke="#22a9b8" stroke-width="1.5" />
<line x1="1753" y1="570" x2="1753" y2="612" stroke="#22a9b8" stroke-width="1.5" />
<line x1="1776" y1="570" x2="1776" y2="612" stroke="#22a9b8" stroke-width="1.5" />
<line x1="1798.6" y1="570" x2="1798.6" y2="612" stroke="#22a9b8" stroke-width="1.5" />
<path d="M1506.2,629 C1518,628.5 1526,634 1523.5,643 C1521,651 1515,656 1518.5,662 C1522,668.5 1530,671.5 1538.7,672.2 C1531,673 1527,676 1527.8,682 C1529,690 1536,695 1535,705 C1534,716 1522,726 1502.5,726" stroke="#000" stroke-width="1.8" fill="none" />
<path d="M1667.5,629.6 C1655,630 1647,637 1649.4,645 C1651,652 1656,656 1654.5,662 C1652.5,668.5 1644,672.5 1635,673.2 C1642,674 1646.5,677 1646.2,683 C1646,690 1638.5,696 1639.3,706 C1640,717 1652,726.5 1670.7,726.5" stroke="#000" stroke-width="1.8" fill="none" />
<rect x="1381" y="789.5" width="103" height="96.69999999999996" fill="none" stroke="#1fbfd0" stroke-width="1.9" />
<line x1="1664.2" y1="787.1" x2="1807.7" y2="787.1" stroke="#1fbfd0" stroke-width="1.5" />
<line x1="1664.2" y1="828.8" x2="1807.7" y2="828.8" stroke="#1fbfd0" stroke-width="1.5" />
<line x1="1664.2" y1="845.5" x2="1780.9" y2="845.5" stroke="#1fbfd0" stroke-width="1.5" />
<line x1="1664.2" y1="787.1" x2="1664.2" y2="845.5" stroke="#1fbfd0" stroke-width="1.5" />
<line x1="1687.55" y1="787.1" x2="1687.55" y2="845.5" stroke="#1fbfd0" stroke-width="1.5" />
<line x1="1710.9" y1="787.1" x2="1710.9" y2="845.5" stroke="#1fbfd0" stroke-width="1.5" />
<line x1="1734.25" y1="787.1" x2="1734.25" y2="845.5" stroke="#1fbfd0" stroke-width="1.5" />
<line x1="1757.6000000000001" y1="787.1" x2="1757.6000000000001" y2="845.5" stroke="#1fbfd0" stroke-width="1.5" />
<line x1="1780.95" y1="787.1" x2="1780.95" y2="845.5" stroke="#1fbfd0" stroke-width="1.5" />
<circle cx="1627" cy="833.5" r="10" fill="none" stroke="#fb5959" stroke-width="0.9" stroke-dasharray="1 1"/>
<line x1="1638" y1="832" x2="1666" y2="838" stroke="#fb5959" stroke-width="1.2" stroke-dasharray="1 1"/>
<rect x="1381" y="928.6" width="103" height="96.69999999999996" fill="none" stroke="#1fbfd0" stroke-width="1.9" />
<line x1="1664.2" y1="926.2" x2="1807.7" y2="926.2" stroke="#1fbfd0" stroke-width="1.5" />
<line x1="1664.2" y1="967.7" x2="1807.7" y2="967.7" stroke="#1fbfd0" stroke-width="1.5" />
<line x1="1664.2" y1="984.6" x2="1780.9" y2="984.6" stroke="#1fbfd0" stroke-width="1.5" />
<line x1="1664.2" y1="926.2" x2="1664.2" y2="984.6" stroke="#1fbfd0" stroke-width="1.5" />
<line x1="1687.55" y1="926.2" x2="1687.55" y2="984.6" stroke="#1fbfd0" stroke-width="1.5" />
<line x1="1710.9" y1="926.2" x2="1710.9" y2="984.6" stroke="#1fbfd0" stroke-width="1.5" />
<line x1="1734.25" y1="926.2" x2="1734.25" y2="984.6" stroke="#1fbfd0" stroke-width="1.5" />
<line x1="1757.6000000000001" y1="926.2" x2="1757.6000000000001" y2="984.6" stroke="#1fbfd0" stroke-width="1.5" />
<line x1="1780.95" y1="926.2" x2="1780.95" y2="984.6" stroke="#1fbfd0" stroke-width="1.5" />
<circle cx="1624" cy="972" r="11" fill="none" stroke="#fb5959" stroke-width="0.9" stroke-dasharray="1 1"/>
<path d="M1628,983 C1640,1000 1670,1000 1698,985" stroke="#fb5959" stroke-width="1" fill="none" stroke-dasharray="1 1"/>
</svg>
<div class="t" id="t0" style="left:49.00px;top:12.26px;font-family:'Liberation Serif', serif;font-size:17.6px;line-height:17.6px;color:#fb5959;transform:scaleX(0.9919);">G<span style="font-size:0.84em">ENERAL</span> P<span style="font-size:0.84em">URPOSE</span> R<span style="font-size:0.84em">EGISTERS</span></div>
<div class="t" id="t1" style="left:439.30px;top:16.06px;font-family:'Liberation Serif', serif;font-size:25px;line-height:25px;color:#fb5959;font-weight:bold;transform:scaleX(0.9990);">R<span style="font-size:0.84em">EGISTERS</span></div>
<div class="t" id="t2" style="left:26.49px;top:67.83px;font-family:'Liberation Serif', serif;font-size:18px;line-height:18px;color:#fb5959;">R0 - R6</div>
<div class="t" id="t3" style="left:101.70px;top:65.66px;font-family:'Liberation Serif', serif;font-size:14.5px;line-height:14.5px;color:#1fbfd0;transform:scaleX(0.9641);">General purpose</div>
<div class="t" id="t4" style="left:44.49px;top:103.92px;font-family:'Liberation Serif', serif;font-size:18px;line-height:18px;color:#fb5959;">R7</div>
<div class="t" id="t5" style="left:101.70px;top:102.86px;font-family:'Liberation Serif', serif;font-size:14.5px;line-height:14.5px;color:#1fbfd0;transform:scaleX(0.9620);">Syscall number</div>
<div class="t" id="t6" style="left:21.99px;top:139.93px;font-family:'Liberation Serif', serif;font-size:18px;line-height:18px;color:#fb5959;">R8 - R10</div>
<div class="t" id="t7" style="left:101.70px;top:138.76px;font-family:'Liberation Serif', serif;font-size:14.5px;line-height:14.5px;color:#1fbfd0;transform:scaleX(0.9641);">General purpose</div>
<div class="t" id="t8" style="left:40.33px;top:176.23px;font-family:'Liberation Serif', serif;font-size:18px;line-height:18px;color:#fb5959;">R11</div>
<div class="t" id="t9" style="left:101.70px;top:175.66px;font-family:'Liberation Serif', serif;font-size:14.5px;line-height:14.5px;color:#1fbfd0;transform:scaleX(0.9629);">Frame Pointer</div>
<div class="t" id="t10" style="left:208.40px;top:170.93px;font-family:'Liberation Serif', serif;font-size:18px;line-height:18px;color:#1fbfd0;">FP</div>
<div class="t" id="t11" style="left:39.99px;top:211.73px;font-family:'Liberation Serif', serif;font-size:18px;line-height:18px;color:#fb5959;">R12</div>
<div class="t" id="t12" style="left:101.70px;top:212.56px;font-family:'Liberation Serif', serif;font-size:14.5px;line-height:14.5px;color:#1fbfd0;transform:scaleX(0.9636);">Intra Procedural</div>
<div class="t" id="t13" style="left:208.40px;top:207.33px;font-family:'Liberation Serif', serif;font-size:18px;line-height:18px;color:#1fbfd0;">IP</div>
<div class="t" id="t14" style="left:39.99px;top:247.43px;font-family:'Liberation Serif', serif;font-size:18px;line-height:18px;color:#fb5959;">R13</div>
<div class="t" id="t15" style="left:101.70px;top:249.56px;font-family:'Liberation Serif', serif;font-size:14.5px;line-height:14.5px;color:#1fbfd0;transform:scaleX(0.9623);">Stack Pointer</div>
<div class="t" id="t16" style="left:208.40px;top:244.32px;font-family:'Liberation Serif', serif;font-size:18px;line-height:18px;color:#1fbfd0;">SP</div>
<div class="t" id="t17" style="left:39.99px;top:283.93px;font-family:'Liberation Serif', serif;font-size:18px;line-height:18px;color:#fb5959;">R14</div>
<div class="t" id="t18" style="left:101.70px;top:286.26px;font-family:'Liberation Serif', serif;font-size:14.5px;line-height:14.5px;color:#1fbfd0;transform:scaleX(0.9692);">Link Register</div>
<div class="t" id="t19" style="left:208.40px;top:282.12px;font-family:'Liberation Serif', serif;font-size:18px;line-height:18px;color:#1fbfd0;">LR</div>
<div class="t" id="t20" style="left:39.99px;top:319.93px;font-family:'Liberation Serif', serif;font-size:18px;line-height:18px;color:#fb5959;">R15</div>
<div class="t" id="t21" style="left:101.70px;top:321.96px;font-family:'Liberation Serif', serif;font-size:14.5px;line-height:14.5px;color:#1fbfd0;transform:scaleX(0.9683);">Program Counter</div>
<div class="t" id="t22" style="left:208.40px;top:319.03px;font-family:'Liberation Serif', serif;font-size:18px;line-height:18px;color:#1fbfd0;">PC</div>
<div class="t" id="t23" style="left:246.40px;top:86.13px;font-family:'Liberation Serif', serif;font-size:12.5px;line-height:12.5px;color:#dadada;transform:scaleX(0.9594);">General purpose registers used for</div>
<div class="t" id="t24" style="left:246.40px;top:100.23px;font-family:'Liberation Serif', serif;font-size:12.5px;line-height:12.5px;color:#dadada;transform:scaleX(0.9598);">temporary values. R7 stores syscall,</div>
<div class="t" id="t25" style="left:246.40px;top:114.93px;font-family:'Liberation Serif', serif;font-size:12.5px;line-height:12.5px;color:#dadada;transform:scaleX(0.9577);">used for syscall invocation.</div>
<div class="t" id="t26" style="left:281.30px;top:166.93px;font-family:'Liberation Serif', serif;font-size:12.5px;line-height:12.5px;color:#dadada;transform:scaleX(0.9618);">Points to bottom of the Stack <b>Frame</b>,</div>
<div class="t" id="t27" style="left:281.30px;top:181.03px;font-family:'Liberation Serif', serif;font-size:12.5px;line-height:12.5px;color:#dadada;transform:scaleX(0.9603);">keeps track of boundries on the stack.</div>
<div class="t" id="t28" style="left:284.20px;top:210.23px;font-family:'Liberation Serif', serif;font-size:12.5px;line-height:12.5px;color:#dadada;transform:scaleX(0.9622);">Intra Procedure call scratch Register</div>
<div class="t" id="t29" style="left:284.20px;top:237.73px;font-family:'Liberation Serif', serif;font-size:12.5px;line-height:12.5px;color:#dadada;transform:scaleX(0.9602);">Points to top of the Stack. Used for</div>
<div class="t" id="t30" style="left:284.20px;top:251.43px;font-family:'Liberation Serif', serif;font-size:12.5px;line-height:12.5px;color:#dadada;transform:scaleX(0.9580);">allocating space on the Stack.</div>
<div class="t" id="t31" style="left:284.20px;top:276.93px;font-family:'Liberation Serif', serif;font-size:12.5px;line-height:12.5px;color:#dadada;transform:scaleX(0.9586);">Receives the return address when a</div>
<div class="t" id="t32" style="left:284.20px;top:291.43px;font-family:'Liberation Serif', serif;font-size:12.5px;line-height:12.5px;color:#dadada;transform:scaleX(0.9590);">BL or BLX instruction is executed.</div>
<div class="t" id="t33" style="left:284.20px;top:316.43px;font-family:'Liberation Serif', serif;font-size:12.5px;line-height:12.5px;color:#dadada;transform:scaleX(0.9625);">Holds the address of the next</div>
<div class="t" id="t34" style="left:284.20px;top:330.23px;font-family:'Liberation Serif', serif;font-size:12.5px;line-height:12.5px;color:#dadada;transform:scaleX(0.9552);">instruction to be executed.</div>
<div class="t" id="t35" style="left:796.60px;top:1.90px;font-family:'Liberation Serif', serif;font-size:16px;line-height:16px;color:#5d716f;transform:scaleX(0.8914);text-shadow:1px 1px 1px #111;">B<span style="font-size:0.84em">YTE</span></div>
<div class="t" id="t36" style="left:703.00px;top:52.80px;font-family:'Liberation Serif', serif;font-size:16px;line-height:16px;color:#5d716f;transform:scaleX(1.0120);text-shadow:1px 1px 1px #111;">H<span style="font-size:0.84em">ALF</span> <span style="font-size:0.84em">WORD</span></div>
<div class="t" id="t37" style="left:519.40px;top:104.20px;font-family:'Liberation Serif', serif;font-size:16px;line-height:16px;color:#5d716f;transform:scaleX(1.0594);text-shadow:1px 1px 1px #111;"><span style="font-size:0.84em">WORD</span></div>
<div class="t" id="t38" style="left:799.00px;top:44.27px;font-family:'Liberation Serif', serif;font-size:14px;line-height:14px;color:#8fc0bd;">7</div>
<div class="t" id="t39" style="left:877.00px;top:44.27px;font-family:'Liberation Serif', serif;font-size:14px;line-height:14px;color:#8fc0bd;">0</div>
<div class="t" id="t40" style="left:703.00px;top:95.28px;font-family:'Liberation Serif', serif;font-size:14px;line-height:14px;color:#8fc0bd;letter-spacing:-1px;">15</div>
<div class="t" id="t41" style="left:877.00px;top:95.28px;font-family:'Liberation Serif', serif;font-size:14px;line-height:14px;color:#8fc0bd;">0</div>
<div class="t" id="t42" style="left:519.00px;top:149.28px;font-family:'Liberation Serif', serif;font-size:14px;line-height:14px;color:#8fc0bd;letter-spacing:-1px;">31</div>
<div class="t" id="t43" style="left:877.00px;top:149.28px;font-family:'Liberation Serif', serif;font-size:14px;line-height:14px;color:#8fc0bd;">0</div>
<div class="t" id="t44" style="left:510.00px;top:177.02px;font-family:'Liberation Serif', serif;font-size:15.5px;line-height:15.5px;color:#1fbfd0;transform:scaleX(0.9160);">MSB</div>
<div class="t" id="t45" style="left:866.00px;top:177.02px;font-family:'Liberation Serif', serif;font-size:15.5px;line-height:15.5px;color:#1fbfd0;transform:scaleX(0.9495);">LSB</div>
<div class="t" id="t46" style="left:634.80px;top:201.74px;font-family:'Liberation Serif', serif;font-size:17.5px;line-height:17.5px;color:#fb5959;transform:scaleX(1.0326);">E<span style="font-size:0.84em">NDIANNESS</span></div>
<div class="t" id="t47" style="left:556.20px;top:251.19px;font-family:'Liberation Serif', serif;font-size:13.5px;line-height:13.5px;color:#fff;transform:scaleX(0.9375);text-shadow:1px 1px 1px #000;">B<span style="font-size:0.84em">YTE</span> 3</div>
<div class="t" id="t48" style="left:634.20px;top:251.19px;font-family:'Liberation Serif', serif;font-size:13.5px;line-height:13.5px;color:#fff;transform:scaleX(0.9375);text-shadow:1px 1px 1px #000;">B<span style="font-size:0.84em">YTE</span> 2</div>
<div class="t" id="t49" style="left:712.20px;top:251.19px;font-family:'Liberation Serif', serif;font-size:13.5px;line-height:13.5px;color:#fff;transform:scaleX(0.9375);text-shadow:1px 1px 1px #000;">B<span style="font-size:0.84em">YTE</span> 1</div>
<div class="t" id="t50" style="left:790.20px;top:251.19px;font-family:'Liberation Serif', serif;font-size:13.5px;line-height:13.5px;color:#fff;transform:scaleX(0.9375);text-shadow:1px 1px 1px #000;">B<span style="font-size:0.84em">YTE</span> 0</div>
<div class="t" id="t51" style="left:537.50px;top:270.95px;font-family:'Liberation Serif', serif;font-size:12px;line-height:12px;color:#8fc0bd;letter-spacing:-1px;">31</div>
<div class="t" id="t52" style="left:840.00px;top:270.95px;font-family:'Liberation Serif', serif;font-size:12px;line-height:12px;color:#8fc0bd;">0</div>
<div class="t" id="t53" style="left:529.00px;top:293.27px;font-family:'Liberation Serif', serif;font-size:14px;line-height:14px;color:#1fbfd0;transform:scaleX(0.9128);">MSB</div>
<div class="t" id="t54" style="left:832.00px;top:293.27px;font-family:'Liberation Serif', serif;font-size:14px;line-height:14px;color:#1fbfd0;transform:scaleX(0.8175);">LSB</div>
<div class="t" id="t55" style="left:643.70px;top:324.69px;font-family:'Liberation Serif', serif;font-size:13.5px;line-height:13.5px;color:#fff;transform:scaleX(1.0010);">H<span style="font-size:0.84em">IGHER</span> A<span style="font-size:0.84em">DDRESS</span></div>
<div class="t" id="t56" style="left:644.00px;top:480.19px;font-family:'Liberation Serif', serif;font-size:13.5px;line-height:13.5px;color:#fff;transform:scaleX(0.9904);">L<span style="font-size:0.84em">OWER</span> A<span style="font-size:0.84em">DDRESS</span></div>
<div class="t" id="t57" style="left:579.70px;top:361.39px;font-family:'Liberation Serif', serif;font-size:13.5px;line-height:13.5px;color:#fff;transform:scaleX(0.9375);text-shadow:1px 1px 1px #000;">B<span style="font-size:0.84em">YTE</span> 0</div>
<div class="t" id="t58" style="left:579.70px;top:389.69px;font-family:'Liberation Serif', serif;font-size:13.5px;line-height:13.5px;color:#fff;transform:scaleX(0.9375);text-shadow:1px 1px 1px #000;">B<span style="font-size:0.84em">YTE</span> 1</div>
<div class="t" id="t59" style="left:579.70px;top:418.39px;font-family:'Liberation Serif', serif;font-size:13.5px;line-height:13.5px;color:#fff;transform:scaleX(0.9375);text-shadow:1px 1px 1px #000;">B<span style="font-size:0.84em">YTE</span> 2</div>
<div class="t" id="t60" style="left:579.70px;top:446.89px;font-family:'Liberation Serif', serif;font-size:13.5px;line-height:13.5px;color:#fff;transform:scaleX(0.9375);text-shadow:1px 1px 1px #000;">B<span style="font-size:0.84em">YTE</span> 3</div>
<div class="t" id="t61" style="left:769.40px;top:361.39px;font-family:'Liberation Serif', serif;font-size:13.5px;line-height:13.5px;color:#fff;transform:scaleX(0.9375);text-shadow:1px 1px 1px #000;">B<span style="font-size:0.84em">YTE</span> 3</div>
<div class="t" id="t62" style="left:769.40px;top:389.69px;font-family:'Liberation Serif', serif;font-size:13.5px;line-height:13.5px;color:#fff;transform:scaleX(0.9375);text-shadow:1px 1px 1px #000;">B<span style="font-size:0.84em">YTE</span> 2</div>
<div class="t" id="t63" style="left:769.40px;top:418.39px;font-family:'Liberation Serif', serif;font-size:13.5px;line-height:13.5px;color:#fff;transform:scaleX(0.9375);text-shadow:1px 1px 1px #000;">B<span style="font-size:0.84em">YTE</span> 1</div>
<div class="t" id="t64" style="left:769.40px;top:446.89px;font-family:'Liberation Serif', serif;font-size:13.5px;line-height:13.5px;color:#fff;transform:scaleX(0.9375);text-shadow:1px 1px 1px #000;">B<span style="font-size:0.84em">YTE</span> 0</div>
<div class="t" id="t65" style="left:468.00px;top:394.14px;font-family:'Liberation Serif', serif;font-size:15px;line-height:15px;color:#1fbfd0;transform:scaleX(0.9048);">B<span style="font-size:0.84em">IG</span> E<span style="font-size:0.84em">NDIAN</span></div>
<div class="t" id="t66" style="left:840.00px;top:392.44px;font-family:'Liberation Serif', serif;font-size:15px;line-height:15px;color:#1fbfd0;transform:scaleX(0.9013);">L<span style="font-size:0.84em">ITTLE</span> E<span style="font-size:0.84em">NDIAN</span></div>
<div class="t" id="t67" style="left:56.80px;top:430.20px;font-family:'Liberation Mono', monospace;font-size:18px;line-height:18px;color:#1fbfd0;font-weight:bold;transform:scaleX(1.0090);">0x12345678</div>
<div class="t" id="t68" style="left:209.20px;top:393.05px;font-family:'Liberation Serif', serif;font-size:12px;line-height:12px;color:#fb5959;transform:scaleX(1.0162);">L<span style="font-size:0.84em">ITTLE</span> <span style="font-size:0.84em">ENDIAN</span></div>
<div class="t" id="t69" style="left:211.00px;top:464.95px;font-family:'Liberation Serif', serif;font-size:12px;line-height:12px;color:#fb5959;transform:scaleX(1.0368);">B<span style="font-size:0.84em">IG</span> <span style="font-size:0.84em">ENDIAN</span></div>
<div class="t" id="t70" style="left:304.50px;top:392.34px;font-family:'Liberation Mono', monospace;font-size:13px;line-height:13px;color:#fff;">78</div>
<div class="t" id="t71" style="left:329.50px;top:392.34px;font-family:'Liberation Mono', monospace;font-size:13px;line-height:13px;color:#fff;">56</div>
<div class="t" id="t72" style="left:354.50px;top:392.34px;font-family:'Liberation Mono', monospace;font-size:13px;line-height:13px;color:#fff;">34</div>
<div class="t" id="t73" style="left:379.50px;top:392.34px;font-family:'Liberation Mono', monospace;font-size:13px;line-height:13px;color:#fff;">12</div>
<div class="t" id="t74" style="left:304.50px;top:466.54px;font-family:'Liberation Mono', monospace;font-size:13px;line-height:13px;color:#fff;">12</div>
<div class="t" id="t75" style="left:329.50px;top:466.54px;font-family:'Liberation Mono', monospace;font-size:13px;line-height:13px;color:#fff;">34</div>
<div class="t" id="t76" style="left:354.50px;top:466.54px;font-family:'Liberation Mono', monospace;font-size:13px;line-height:13px;color:#fff;">56</div>
<div class="t" id="t77" style="left:379.50px;top:466.54px;font-family:'Liberation Mono', monospace;font-size:13px;line-height:13px;color:#fff;">78</div>
<div class="t" id="t78" style="left:275.00px;top:372.97px;font-family:'Liberation Mono', monospace;font-size:11px;line-height:11px;color:#fb5959;font-weight:bold;transform:scaleX(0.8710);">Byte</div>
<div class="t" id="t79" style="left:272.00px;top:486.57px;font-family:'Liberation Mono', monospace;font-size:11px;line-height:11px;color:#fb5959;font-weight:bold;transform:scaleX(0.8710);">Byte</div>
<div class="t" id="t80" style="left:308.20px;top:372.97px;font-family:'Liberation Mono', monospace;font-size:11px;line-height:11px;color:#fb5959;">0</div>
<div class="t" id="t81" style="left:333.70px;top:372.97px;font-family:'Liberation Mono', monospace;font-size:11px;line-height:11px;color:#fb5959;">1</div>
<div class="t" id="t82" style="left:359.20px;top:372.97px;font-family:'Liberation Mono', monospace;font-size:11px;line-height:11px;color:#fb5959;">2</div>
<div class="t" id="t83" style="left:384.70px;top:372.97px;font-family:'Liberation Mono', monospace;font-size:11px;line-height:11px;color:#fb5959;">3</div>
<div class="t" id="t84" style="left:308.20px;top:486.57px;font-family:'Liberation Mono', monospace;font-size:11px;line-height:11px;color:#fb5959;">3</div>
<div class="t" id="t85" style="left:333.70px;top:486.57px;font-family:'Liberation Mono', monospace;font-size:11px;line-height:11px;color:#fb5959;">2</div>
<div class="t" id="t86" style="left:359.20px;top:486.57px;font-family:'Liberation Mono', monospace;font-size:11px;line-height:11px;color:#fb5959;">1</div>
<div class="t" id="t87" style="left:384.70px;top:486.57px;font-family:'Liberation Mono', monospace;font-size:11px;line-height:11px;color:#fb5959;">0</div>
<div class="t" id="t88" style="left:869.80px;top:467.20px;font-family:'Liberation Serif', serif;font-size:64px;line-height:64px;color:#fb5959;transform:scaleX(0.9361);">ARM</div>
<div class="t" id="t89" style="left:914.60px;top:528.65px;font-family:'Liberation Serif', serif;font-size:20px;line-height:20px;color:#fb5959;transform:scaleX(0.9680);">32-<span style="font-size:0.84em">BIT</span></div>
<div class="t" id="t90" style="left:962.50px;top:87.92px;font-family:'Liberation Serif', serif;font-size:26px;line-height:26px;color:#fb5959;font-weight:bold;transform:scaleX(1.0338);">I<span style="font-size:0.84em">NSTRUCTIONS</span></div>
<div class="t" id="t91" style="left:1220.60px;top:18.62px;font-family:'Liberation Serif', serif;font-size:18px;line-height:18px;color:#fb5959;transform:scaleX(0.9859);">L<span style="font-size:0.84em">OAD</span> <span style="font-size:0.84em">AND</span> S<span style="font-size:0.84em">TORE</span></div>
<div class="t" id="t92" style="left:1212.20px;top:61.77px;font-family:'Liberation Mono', monospace;font-size:9.3px;line-height:9.3px;color:#e6e6e6;transform:scaleX(0.9854);">value at <span style="color:#1fbfd0;">[</span><b>address</b><span style="color:#1fbfd0;">]</span> found in <span style="color:#1fbfd0;font-weight:bold;">Rb</span></div>
<div class="t" id="t93" style="left:1212.20px;top:73.87px;font-family:'Liberation Mono', monospace;font-size:9.3px;line-height:9.3px;color:#e6e6e6;transform:scaleX(0.9926);">is loaded into register <span style="color:#fb5959;font-weight:bold;">Ra</span></div>
<div class="t" id="t94" style="left:1177.00px;top:109.22px;font-family:'Liberation Mono', monospace;font-size:21.5px;line-height:21.5px;color:#fff;transform:scaleX(1.0015);">LDR  <span style="color:#fb5959;">Ra</span>, <span style="color:#1fbfd0;">[Rb]</span></div>
<div class="t" id="t95" style="left:1177.00px;top:137.32px;font-family:'Liberation Mono', monospace;font-size:21.5px;line-height:21.5px;color:#fff;transform:scaleX(1.0015);">STR  <span style="color:#1fbfd0;">Ra</span>, <span style="color:#fb5959;">[Rb]</span></div>
<div class="t" id="t96" style="left:1212.20px;top:182.67px;font-family:'Liberation Mono', monospace;font-size:9.3px;line-height:9.3px;color:#e6e6e6;transform:scaleX(0.9926);">value found in register <span style="color:#1fbfd0;font-weight:bold;">Ra</span></div>
<div class="t" id="t97" style="left:1212.20px;top:194.77px;font-family:'Liberation Mono', monospace;font-size:9.3px;line-height:9.3px;color:#e6e6e6;transform:scaleX(0.9855);">is stored to <span style="color:#fb5959;">[</span><b>address</b><span style="color:#fb5959;">]</span> found in <span style="color:#fb5959;font-weight:bold;">Rb</span></div>
<div class="t" id="t98" style="left:1182.50px;top:242.26px;font-family:'Liberation Serif', serif;font-size:17.6px;line-height:17.6px;color:#fb5959;transform:scaleX(1.0014);">L<span style="font-size:0.84em">OAD</span> <span style="font-size:0.84em">AND</span> S<span style="font-size:0.84em">TORE</span> M<span style="font-size:0.84em">ULTIPLE</span></div>
<div class="t" id="t99" style="left:1208.70px;top:299.15px;font-family:'Liberation Mono', monospace;font-size:9.2px;line-height:9.2px;color:#e6e6e6;">value at <b>address</b></div>
<div class="t" id="t100" style="left:1308.00px;top:299.15px;font-family:'Liberation Mono', monospace;font-size:9.2px;line-height:9.2px;color:#e6e6e6;">value at <b>address</b></div>
<div class="t" id="t101" style="left:1208.70px;top:311.15px;font-family:'Liberation Mono', monospace;font-size:9.2px;line-height:9.2px;color:#e6e6e6;">found in <span style="color:#fb5959;font-weight:bold;">Ra</span></div>
<div class="t" id="t102" style="left:1308.00px;top:311.15px;font-family:'Liberation Mono', monospace;font-size:9.2px;line-height:9.2px;color:#e6e6e6;">found in <span style="color:#fb5959;font-weight:bold;">Ra (+4)</span></div>
<div class="t" id="t103" style="left:1208.70px;top:323.15px;font-family:'Liberation Mono', monospace;font-size:9.2px;line-height:9.2px;color:#e6e6e6;">is loaded into</div>
<div class="t" id="t104" style="left:1308.00px;top:323.15px;font-family:'Liberation Mono', monospace;font-size:9.2px;line-height:9.2px;color:#e6e6e6;">is loaded into</div>
<div class="t" id="t105" style="left:1208.70px;top:335.15px;font-family:'Liberation Mono', monospace;font-size:9.2px;line-height:9.2px;color:#e6e6e6;">register <span style="color:#1fbfd0;font-weight:bold;">Rb</span></div>
<div class="t" id="t106" style="left:1308.00px;top:335.15px;font-family:'Liberation Mono', monospace;font-size:9.2px;line-height:9.2px;color:#e6e6e6;">register <span style="color:#1fbfd0;font-weight:bold;">Rc</span></div>
<div class="t" id="t107" style="left:1157.00px;top:379.07px;font-family:'Liberation Mono', monospace;font-size:21.7px;line-height:21.7px;color:#fff;transform:scaleX(1.0020);">LDM  <span style="color:#fb5959;">Ra</span>, <span style="color:#1fbfd0;">{Rb, Rc}</span></div>
<div class="t" id="t108" style="left:1157.00px;top:407.07px;font-family:'Liberation Mono', monospace;font-size:21.7px;line-height:21.7px;color:#fff;transform:scaleX(1.0020);">STM  <span style="color:#1fbfd0;">Ra</span>, <span style="color:#fb5959;">{Rb, Rc}</span></div>
<div class="t" id="t109" style="left:1175.70px;top:457.95px;font-family:'Liberation Mono', monospace;font-size:9.2px;line-height:9.2px;color:#e6e6e6;">value found in <span style="color:#fb5959;font-weight:bold;">Rb</span></div>
<div class="t" id="t110" style="left:1302.00px;top:454.95px;font-family:'Liberation Mono', monospace;font-size:9.2px;line-height:9.2px;color:#e6e6e6;">value found in <span style="color:#fb5959;font-weight:bold;">Rc</span></div>
<div class="t" id="t111" style="left:1175.70px;top:469.85px;font-family:'Liberation Mono', monospace;font-size:9.2px;line-height:9.2px;color:#e6e6e6;"> is stored to</div>
<div class="t" id="t112" style="left:1302.00px;top:466.85px;font-family:'Liberation Mono', monospace;font-size:9.2px;line-height:9.2px;color:#e6e6e6;">is stored to</div>
<div class="t" id="t113" style="left:1175.70px;top:481.75px;font-family:'Liberation Mono', monospace;font-size:9.2px;line-height:9.2px;color:#e6e6e6;">address found in <span style="color:#1fbfd0;font-weight:bold;">Ra+4</span></div>
<div class="t" id="t114" style="left:1302.00px;top:478.75px;font-family:'Liberation Mono', monospace;font-size:9.2px;line-height:9.2px;color:#e6e6e6;">address found in <span style="color:#1fbfd0;font-weight:bold;">Ra</span></div>
<div class="t" id="t115" style="left:1468.40px;top:12.40px;font-family:'Liberation Mono', monospace;font-size:12px;line-height:12px;color:#eaeaea;">Given:</div>
<div class="t" id="t116" style="left:1470.80px;top:27.90px;font-family:'Liberation Mono', monospace;font-size:12px;line-height:12px;color:#eaeaea;">r0 = 1</div>
<div class="t" id="t117" style="left:1470.80px;top:41.60px;font-family:'Liberation Mono', monospace;font-size:12px;line-height:12px;color:#eaeaea;">r1 = 2</div>
<div class="t" id="t118" style="left:1470.80px;top:56.70px;font-family:'Liberation Mono', monospace;font-size:12px;line-height:12px;color:#eaeaea;">r2 = 3</div>
<div class="t" id="t119" style="left:1529.50px;top:15.62px;font-family:'Liberation Serif', serif;font-size:18px;line-height:18px;color:#e6e6e6;transform:scaleX(1.0295);">I<span style="font-size:0.84em">NSTRUCTION</span></div>
<div class="t" id="t120" style="left:1663.60px;top:15.62px;font-family:'Liberation Serif', serif;font-size:18px;line-height:18px;color:#e6e6e6;transform:scaleX(0.9436);">E<span style="font-size:0.84em">XAMPLE</span></div>
<div class="t" id="t121" style="left:1798.30px;top:15.62px;font-family:'Liberation Serif', serif;font-size:18px;line-height:18px;color:#e6e6e6;transform:scaleX(0.9368);">R<span style="font-size:0.84em">ESULT</span></div>
<div class="t" id="t122" style="left:1569.16px;top:43.99px;font-family:'Liberation Serif', serif;font-size:14.7px;line-height:14.7px;color:#e8e8e8;">MOV</div>
<div class="t" id="t123" style="left:1648.00px;top:45.60px;font-family:'Liberation Mono', monospace;font-size:12px;line-height:12px;color:#f0f0f0;">mov r3, #3</div>
<div class="t" id="t124" style="left:1771.50px;top:46.60px;font-family:'Liberation Mono', monospace;font-size:12px;line-height:12px;color:#f0f0f0;">r3 = 3</div>
<div class="t" id="t125" style="left:1570.39px;top:70.74px;font-family:'Liberation Serif', serif;font-size:14.7px;line-height:14.7px;color:#e8e8e8;">ADD</div>
<div class="t" id="t126" style="left:1648.00px;top:72.35px;font-family:'Liberation Mono', monospace;font-size:12px;line-height:12px;color:#f0f0f0;">add r3, r0, r0</div>
<div class="t" id="t127" style="left:1771.50px;top:73.35px;font-family:'Liberation Mono', monospace;font-size:12px;line-height:12px;color:#f0f0f0;">r3 = 1 + 1</div>
<div class="t" id="t128" style="left:1572.01px;top:97.49px;font-family:'Liberation Serif', serif;font-size:14.7px;line-height:14.7px;color:#e8e8e8;">SUB</div>
<div class="t" id="t129" style="left:1648.00px;top:99.10px;font-family:'Liberation Mono', monospace;font-size:12px;line-height:12px;color:#f0f0f0;">sub r3, r0, r0</div>
<div class="t" id="t130" style="left:1771.50px;top:100.10px;font-family:'Liberation Mono', monospace;font-size:12px;line-height:12px;color:#f0f0f0;">r3 = 1 - 1</div>
<div class="t" id="t131" style="left:1569.98px;top:124.24px;font-family:'Liberation Serif', serif;font-size:14.7px;line-height:14.7px;color:#e8e8e8;">MUL</div>
<div class="t" id="t132" style="left:1648.00px;top:125.85px;font-family:'Liberation Mono', monospace;font-size:12px;line-height:12px;color:#f0f0f0;">mul r3, r0, r0</div>
<div class="t" id="t133" style="left:1771.50px;top:126.85px;font-family:'Liberation Mono', monospace;font-size:12px;line-height:12px;color:#f0f0f0;">r3 = 1 * 1</div>
<div class="t" id="t134" style="left:1573.24px;top:150.99px;font-family:'Liberation Serif', serif;font-size:14.7px;line-height:14.7px;color:#e8e8e8;">LSL</div>
<div class="t" id="t135" style="left:1648.00px;top:152.60px;font-family:'Liberation Mono', monospace;font-size:12px;line-height:12px;color:#f0f0f0;">lsl r3, r0, #2</div>
<div class="t" id="t136" style="left:1771.50px;top:153.60px;font-family:'Liberation Mono', monospace;font-size:12px;line-height:12px;color:#f0f0f0;">r3 = 1 &lt;&lt; 2 = 4</div>
<div class="t" id="t137" style="left:1572.83px;top:177.74px;font-family:'Liberation Serif', serif;font-size:14.7px;line-height:14.7px;color:#e8e8e8;">LSR</div>
<div class="t" id="t138" style="left:1648.00px;top:179.35px;font-family:'Liberation Mono', monospace;font-size:12px;line-height:12px;color:#f0f0f0;">lsr r3, r0, #2</div>
<div class="t" id="t139" style="left:1771.50px;top:180.35px;font-family:'Liberation Mono', monospace;font-size:12px;line-height:12px;color:#f0f0f0;">r3 = 1 &gt;&gt; 2 = 0</div>
<div class="t" id="t140" style="left:1572.01px;top:204.49px;font-family:'Liberation Serif', serif;font-size:14.7px;line-height:14.7px;color:#e8e8e8;">ASR</div>
<div class="t" id="t141" style="left:1648.00px;top:206.10px;font-family:'Liberation Mono', monospace;font-size:12px;line-height:12px;color:#f0f0f0;">asr r3, r0, #2</div>
<div class="t" id="t142" style="left:1771.50px;top:207.10px;font-family:'Liberation Mono', monospace;font-size:12px;line-height:12px;color:#f0f0f0;transform:scaleX(0.9460);">r3 = 1 asr 2 = 0</div>
<div class="t" id="t143" style="left:1571.20px;top:231.24px;font-family:'Liberation Serif', serif;font-size:14.7px;line-height:14.7px;color:#e8e8e8;">ROR</div>
<div class="t" id="t144" style="left:1648.00px;top:232.85px;font-family:'Liberation Mono', monospace;font-size:12px;line-height:12px;color:#f0f0f0;">ror r3, r0, #2</div>
<div class="t" id="t145" style="left:1771.50px;top:233.85px;font-family:'Liberation Mono', monospace;font-size:12px;line-height:12px;color:#f0f0f0;">r3 = 0x40000000</div>
<div class="t" id="t146" style="left:1570.39px;top:257.99px;font-family:'Liberation Serif', serif;font-size:14.7px;line-height:14.7px;color:#e8e8e8;">AND</div>
<div class="t" id="t147" style="left:1648.00px;top:259.60px;font-family:'Liberation Mono', monospace;font-size:12px;line-height:12px;color:#f0f0f0;">and r3, r1, r0</div>
<div class="t" id="t148" style="left:1771.50px;top:260.60px;font-family:'Liberation Mono', monospace;font-size:12px;line-height:12px;color:#f0f0f0;">r3 = 1 and 2 =0</div>
<div class="t" id="t149" style="left:1571.20px;top:284.74px;font-family:'Liberation Serif', serif;font-size:14.7px;line-height:14.7px;color:#e8e8e8;">ORR</div>
<div class="t" id="t150" style="left:1648.00px;top:286.35px;font-family:'Liberation Mono', monospace;font-size:12px;line-height:12px;color:#f0f0f0;">orr r3, r1, r0</div>
<div class="t" id="t151" style="left:1771.50px;top:287.35px;font-family:'Liberation Mono', monospace;font-size:12px;line-height:12px;color:#f0f0f0;">r3 = 1 orr 2 =3</div>
<div class="t" id="t152" style="left:1571.61px;top:311.49px;font-family:'Liberation Serif', serif;font-size:14.7px;line-height:14.7px;color:#e8e8e8;">EOR</div>
<div class="t" id="t153" style="left:1648.00px;top:313.10px;font-family:'Liberation Mono', monospace;font-size:12px;line-height:12px;color:#f0f0f0;">eor r3, r1, r0</div>
<div class="t" id="t154" style="left:1771.50px;top:314.10px;font-family:'Liberation Mono', monospace;font-size:12px;line-height:12px;color:#f0f0f0;">r3 = 1 xor 2 =3</div>
<div class="t" id="t155" style="left:1531.90px;top:374.81px;font-family:'Liberation Serif', serif;font-size:17.3px;line-height:17.3px;color:#fb5959;transform:scaleX(1.0464);">ARM I<span style="font-size:0.84em">NSTRUCTIONS</span></div>
<div class="t" id="t156" style="left:1715.20px;top:374.81px;font-family:'Liberation Serif', serif;font-size:17.3px;line-height:17.3px;color:#fb5959;transform:scaleX(1.0790);">T<span style="font-size:0.84em">HUMB</span> I<span style="font-size:0.84em">NSTRUCTIONS</span></div>
<div class="t" id="t157" style="left:1485.96px;top:407.00px;font-family:'Liberation Mono', monospace;font-size:12px;line-height:12px;color:#eaeaea;">All instructions conditional</div>
<div class="t" id="t158" style="left:1550.77px;top:434.00px;font-family:'Liberation Mono', monospace;font-size:12px;line-height:12px;color:#eaeaea;">32-bit instructions</div>
<div class="t" id="t159" style="left:1715.20px;top:407.70px;font-family:'Liberation Mono', monospace;font-size:12px;line-height:12px;color:#eaeaea;">No conditional instructions</div>
<div class="t" id="t160" style="left:1715.20px;top:434.80px;font-family:'Liberation Mono', monospace;font-size:12px;line-height:12px;color:#eaeaea;">16-bit instructions</div>
<div class="t" id="t161" style="left:362.50px;top:713.39px;font-family:'Liberation Serif', serif;font-size:27px;line-height:27px;color:#fb5959;font-weight:bold;transform:scaleX(0.9932);">B<span style="font-size:0.84em">RANCHING</span></div>
<div class="t" id="t162" style="left:26.20px;top:551.76px;font-family:'Liberation Serif', serif;font-size:17.6px;line-height:17.6px;color:#fb5959;transform:scaleX(0.9841);">B<span style="font-size:0.84em">RANCH</span> (<span style="font-size:0.84em">B</span>)</div>
<div class="t" id="t163" style="left:28.70px;top:588.72px;font-family:'Liberation Serif', serif;font-size:15.5px;line-height:15.5px;color:#1fbfd0;transform:scaleX(0.9654);">S<span style="font-size:0.84em">YNTAX</span></div>
<div class="t" id="t164" style="left:28.70px;top:614.50px;font-family:'Liberation Mono', monospace;font-size:12px;line-height:12px;color:#f0f0f0;">b[cond] label</div>
<div class="t" id="t165" style="left:28.70px;top:628.30px;font-family:'Liberation Mono', monospace;font-size:12px;line-height:12px;color:#f0f0f0;">b       label</div>
<div class="t" id="t166" style="left:45.00px;top:660.80px;font-family:'Liberation Mono', monospace;font-size:12px;line-height:12px;color:#f0f0f0;">loop:</div>
<div class="t" id="t167" style="left:90.70px;top:674.80px;font-family:'Liberation Mono', monospace;font-size:12px;line-height:12px;color:#f0f0f0;">cmp  r0, #4</div>
<div class="t" id="t168" style="left:90.70px;top:689.10px;font-family:'Liberation Mono', monospace;font-size:12px;line-height:12px;color:#f0f0f0;">beq  end</div>
<div class="t" id="t169" style="left:90.70px;top:703.40px;font-family:'Liberation Mono', monospace;font-size:12px;line-height:12px;color:#f0f0f0;">add  r0,r0,#1</div>
<div class="t" id="t170" style="left:90.70px;top:717.70px;font-family:'Liberation Mono', monospace;font-size:12px;line-height:12px;color:#f0f0f0;">b    loop</div>
<div class="t" id="t171" style="left:208.70px;top:665.80px;font-family:'Liberation Mono', monospace;font-size:12px;line-height:12px;color:#f0f0f0;">end:</div>
<div class="t" id="t172" style="left:212.50px;top:686.80px;font-family:'Liberation Mono', monospace;font-size:12px;line-height:12px;color:#f0f0f0;">bx  lr</div>
<div class="t" id="t173" style="left:30.00px;top:838.96px;font-family:'Liberation Serif', serif;font-size:17.6px;line-height:17.6px;color:#fb5959;transform:scaleX(0.9440);">B<span style="font-size:0.84em">RANCH</span> &amp; <span style="font-size:0.84em">LINK</span>  (BL)</div>
<div class="t" id="t174" style="left:28.70px;top:875.02px;font-family:'Liberation Serif', serif;font-size:15.5px;line-height:15.5px;color:#1fbfd0;transform:scaleX(0.9654);">S<span style="font-size:0.84em">YNTAX</span></div>
<div class="t" id="t175" style="left:28.70px;top:900.80px;font-family:'Liberation Mono', monospace;font-size:12px;line-height:12px;color:#f0f0f0;">bl[cond] label</div>
<div class="t" id="t176" style="left:28.70px;top:915.00px;font-family:'Liberation Mono', monospace;font-size:12px;line-height:12px;color:#f0f0f0;">bl       label</div>
<div class="t" id="t177" style="left:193.70px;top:903.80px;font-family:'Liberation Mono', monospace;font-size:12px;line-height:12px;color:#1e1e1e;">LR &lt;- PC</div>
<div class="t" id="t178" style="left:193.70px;top:917.80px;font-family:'Liberation Mono', monospace;font-size:12px;line-height:12px;color:#1e1e1e;">LR = 0x10060</div>
<div class="t" id="t179" style="left:26.70px;top:967.00px;font-family:'Liberation Mono', monospace;font-size:12px;line-height:12px;color:#f0f0f0;">0x10054</div>
<div class="t" id="t180" style="left:26.70px;top:981.10px;font-family:'Liberation Mono', monospace;font-size:12px;line-height:12px;color:#f0f0f0;">0x10058</div>
<div class="t" id="t181" style="left:26.70px;top:995.20px;font-family:'Liberation Mono', monospace;font-size:12px;line-height:12px;color:#f0f0f0;">0x1005c</div>
<div class="t" id="t182" style="left:26.70px;top:1009.30px;font-family:'Liberation Mono', monospace;font-size:12px;line-height:12px;color:#f0f0f0;">0x10060</div>
<div class="t" id="t183" style="left:90.00px;top:967.00px;font-family:'Liberation Mono', monospace;font-size:12px;line-height:12px;color:#f0f0f0;">mov  r0,#2</div>
<div class="t" id="t184" style="left:90.00px;top:981.10px;font-family:'Liberation Mono', monospace;font-size:12px;line-height:12px;color:#f0f0f0;">mov  r1,#4</div>
<div class="t" id="t185" style="left:90.00px;top:995.20px;font-family:'Liberation Mono', monospace;font-size:12px;line-height:12px;color:#f0f0f0;">bl   func1</div>
<div class="t" id="t186" style="left:90.00px;top:1009.30px;font-family:'Liberation Mono', monospace;font-size:12px;line-height:12px;color:#f0f0f0;">mov  r2,#3</div>
<div class="t" id="t187" style="left:217.50px;top:963.30px;font-family:'Liberation Mono', monospace;font-size:12px;line-height:12px;color:#f0f0f0;">0x10064</div>
<div class="t" id="t188" style="left:217.50px;top:977.60px;font-family:'Liberation Mono', monospace;font-size:12px;line-height:12px;color:#f0f0f0;">0x10068</div>
<div class="t" id="t189" style="left:281.70px;top:963.30px;font-family:'Liberation Mono', monospace;font-size:12px;line-height:12px;color:#f0f0f0;">add  r0,r1,r1</div>
<div class="t" id="t190" style="left:281.70px;top:977.60px;font-family:'Liberation Mono', monospace;font-size:12px;line-height:12px;color:#f0f0f0;">bx   lr</div>
<div class="t" id="t191" style="left:543.70px;top:554.46px;font-family:'Liberation Serif', serif;font-size:17.6px;line-height:17.6px;color:#fb5959;transform:scaleX(0.9706);">B<span style="font-size:0.84em">RANCH</span> &amp; E<span style="font-size:0.84em">XCHANGE</span> (B<span style="font-size:0.84em">X</span>)</div>
<div class="t" id="t192" style="left:544.60px;top:587.22px;font-family:'Liberation Serif', serif;font-size:15.5px;line-height:15.5px;color:#1fbfd0;transform:scaleX(0.9654);">S<span style="font-size:0.84em">YNTAX</span></div>
<div class="t" id="t193" style="left:544.60px;top:612.30px;font-family:'Liberation Mono', monospace;font-size:12px;line-height:12px;color:#f0f0f0;">bx[cond] Rm</div>
<div class="t" id="t194" style="left:544.60px;top:626.80px;font-family:'Liberation Mono', monospace;font-size:12px;line-height:12px;color:#f0f0f0;">bx       Rm</div>
<div class="t" id="t195" style="left:605.80px;top:664.90px;font-family:'Liberation Mono', monospace;font-size:12px;line-height:12px;color:#f0f0f0;">add  r2,pc,#1</div>
<div class="t" id="t196" style="left:605.80px;top:679.20px;font-family:'Liberation Mono', monospace;font-size:12px;line-height:12px;color:#f0f0f0;">bx   r2</div>
<div class="t" id="t197" style="left:605.80px;top:693.50px;font-family:'Liberation Mono', monospace;font-size:12px;line-height:12px;color:#f0f0f0;">add  r1, r1</div>
<div class="t" id="t198" style="left:605.80px;top:707.80px;font-family:'Liberation Mono', monospace;font-size:12px;line-height:12px;color:#f0f0f0;">[...]</div>
<div class="t" id="t199" style="left:526.70px;top:687.34px;font-family:'Liberation Mono', monospace;font-size:10px;line-height:10px;color:#f0f0f0;font-weight:bold;transform:scaleX(1.0994);">Thumb</div>
<div class="t" id="t200" style="left:717.80px;top:591.10px;font-family:'Liberation Serif', serif;font-size:16px;line-height:16px;color:#1fbfd0;transform:scaleX(0.9894);">S<span style="font-size:0.84em">WITCH</span> <span style="font-size:0.84em">TO</span> T<span style="font-size:0.84em">HUMB</span> <span style="font-size:0.84em">MODE</span></div>
<div class="t" id="t201" style="left:717.80px;top:616.80px;font-family:'Liberation Mono', monospace;font-size:12px;line-height:12px;color:#f0f0f0;">1. Set LSB of next instruction</div>
<div class="t" id="t202" style="left:717.80px;top:630.90px;font-family:'Liberation Mono', monospace;font-size:12px;line-height:12px;color:#f0f0f0;">to 1 and move it to register</div>
<div class="t" id="t203" style="left:717.80px;top:645.90px;font-family:'Liberation Mono', monospace;font-size:12px;line-height:12px;color:#f0f0f0;">2. Branch to R2</div>
<div class="t" id="t204" style="left:711.50px;top:706.40px;font-family:'Liberation Mono', monospace;font-size:12px;line-height:12px;color:#1fbfd0;">directives</div>
<div class="t" id="t205" style="left:788.80px;top:683.50px;font-family:'Liberation Mono', monospace;font-size:12px;line-height:12px;color:#f0f0f0;">.<span style="color:#fb5959">ARM</span></div>
<div class="t" id="t206" style="left:818.30px;top:697.80px;font-family:'Liberation Mono', monospace;font-size:12px;line-height:12px;color:#f0f0f0;">add  r2, pc, #1</div>
<div class="t" id="t207" style="left:818.30px;top:712.60px;font-family:'Liberation Mono', monospace;font-size:12px;line-height:12px;color:#f0f0f0;">bx   r2</div>
<div class="t" id="t208" style="left:788.80px;top:740.00px;font-family:'Liberation Mono', monospace;font-size:12px;line-height:12px;color:#f0f0f0;">.<span style="color:#fb5959">THUMB</span></div>
<div class="t" id="t209" style="left:820.00px;top:753.80px;font-family:'Liberation Mono', monospace;font-size:12px;line-height:12px;color:#f0f0f0;">[...]</div>
<div class="t" id="t210" style="left:545.70px;top:842.76px;font-family:'Liberation Serif', serif;font-size:17.6px;line-height:17.6px;color:#fb5959;transform:scaleX(0.9553);">B<span style="font-size:0.84em">RANCH</span> &amp; <span style="font-size:0.84em">LINK</span> &amp; E<span style="font-size:0.84em">XCHANGE</span> (BLX)</div>
<div class="t" id="t211" style="left:545.70px;top:879.22px;font-family:'Liberation Serif', serif;font-size:15.5px;line-height:15.5px;color:#1fbfd0;transform:scaleX(0.9654);">S<span style="font-size:0.84em">YNTAX</span></div>
<div class="t" id="t212" style="left:545.00px;top:904.50px;font-family:'Liberation Mono', monospace;font-size:12px;line-height:12px;color:#f0f0f0;">blx[cond] Rm</div>
<div class="t" id="t213" style="left:545.00px;top:919.10px;font-family:'Liberation Mono', monospace;font-size:12px;line-height:12px;color:#f0f0f0;">blx       Rm</div>
<div class="t" id="t214" style="left:545.00px;top:933.40px;font-family:'Liberation Mono', monospace;font-size:12px;line-height:12px;color:#f0f0f0;">blx       label</div>
<div class="t" id="t215" style="left:709.80px;top:908.10px;font-family:'Liberation Mono', monospace;font-size:12px;line-height:12px;color:#1e1e1e;">LR &lt;- PC</div>
<div class="t" id="t216" style="left:709.80px;top:922.10px;font-family:'Liberation Mono', monospace;font-size:12px;line-height:12px;color:#1e1e1e;">LR = 0x10060</div>
<div class="t" id="t217" style="left:741.40px;top:952.10px;font-family:'Liberation Mono', monospace;font-size:12px;line-height:12px;color:#fb5959;font-weight:bold;">thumb</div>
<div class="t" id="t218" style="left:542.20px;top:970.80px;font-family:'Liberation Mono', monospace;font-size:12px;line-height:12px;color:#f0f0f0;">0x10054</div>
<div class="t" id="t219" style="left:542.20px;top:985.10px;font-family:'Liberation Mono', monospace;font-size:12px;line-height:12px;color:#f0f0f0;">0x10058</div>
<div class="t" id="t220" style="left:542.20px;top:999.40px;font-family:'Liberation Mono', monospace;font-size:12px;line-height:12px;color:#f0f0f0;">0x1005c</div>
<div class="t" id="t221" style="left:542.20px;top:1013.70px;font-family:'Liberation Mono', monospace;font-size:12px;line-height:12px;color:#f0f0f0;">0x10060</div>
<div class="t" id="t222" style="left:605.90px;top:970.80px;font-family:'Liberation Mono', monospace;font-size:12px;line-height:12px;color:#f0f0f0;">mov  r0,#2</div>
<div class="t" id="t223" style="left:605.90px;top:985.10px;font-family:'Liberation Mono', monospace;font-size:12px;line-height:12px;color:#f0f0f0;">mov  r1,#4</div>
<div class="t" id="t224" style="left:605.90px;top:999.40px;font-family:'Liberation Mono', monospace;font-size:12px;line-height:12px;color:#f0f0f0;">blx  func1</div>
<div class="t" id="t225" style="left:605.90px;top:1013.70px;font-family:'Liberation Mono', monospace;font-size:12px;line-height:12px;color:#f0f0f0;">mov  r2,#3</div>
<div class="t" id="t226" style="left:733.20px;top:967.80px;font-family:'Liberation Mono', monospace;font-size:12px;line-height:12px;color:#f0f0f0;">0x10065</div>
<div class="t" id="t227" style="left:733.20px;top:981.90px;font-family:'Liberation Mono', monospace;font-size:12px;line-height:12px;color:#f0f0f0;">0x10067</div>
<div class="t" id="t228" style="left:797.60px;top:967.80px;font-family:'Liberation Mono', monospace;font-size:12px;line-height:12px;color:#f0f0f0;">add  r0,r1,r1</div>
<div class="t" id="t229" style="left:797.60px;top:981.90px;font-family:'Liberation Mono', monospace;font-size:12px;line-height:12px;color:#f0f0f0;">bx   lr</div>
<div class="t" id="t230" style="left:1047.00px;top:528.17px;font-family:'Liberation Serif', serif;font-size:27.5px;line-height:27.5px;color:#fb5959;font-weight:bold;transform:scaleX(0.9751);">C<span style="font-size:0.84em">ONDITIONAL</span> E<span style="font-size:0.84em">XECUTION</span></div>
<div class="t" id="t231" style="left:967.00px;top:584.50px;font-family:'Liberation Mono', monospace;font-size:12px;line-height:12px;color:#151515;font-weight:bold;transform:scaleX(0.9967);">Condition Code</div>
<div class="t" id="t232" style="left:1111.39px;top:584.50px;font-family:'Liberation Mono', monospace;font-size:12px;line-height:12px;color:#151515;font-weight:bold;">Meaning</div>
<div class="t" id="t233" style="left:1215.19px;top:584.50px;font-family:'Liberation Mono', monospace;font-size:12px;line-height:12px;color:#151515;font-weight:bold;">Flags Tested</div>
<div class="t" id="t234" style="left:1007.00px;top:608.62px;font-family:'Liberation Mono', monospace;font-size:15.5px;line-height:15.5px;color:#ececec;">EQ</div>
<div class="t" id="t235" style="left:1083.00px;top:611.65px;font-family:'Liberation Mono', monospace;font-size:10.9px;line-height:10.9px;color:#ececec;font-weight:bold;">Equal (==)</div>
<div class="t" id="t236" style="left:1236.79px;top:611.10px;font-family:'Liberation Mono', monospace;font-size:12px;line-height:12px;color:#ececec;">Z == 1</div>
<div class="t" id="t237" style="left:1007.00px;top:635.35px;font-family:'Liberation Mono', monospace;font-size:15.5px;line-height:15.5px;color:#ececec;">NE</div>
<div class="t" id="t238" style="left:1083.00px;top:638.38px;font-family:'Liberation Mono', monospace;font-size:10.9px;line-height:10.9px;color:#ececec;font-weight:bold;">Not Equal (!=)</div>
<div class="t" id="t239" style="left:1236.79px;top:637.83px;font-family:'Liberation Mono', monospace;font-size:12px;line-height:12px;color:#ececec;">Z == 0</div>
<div class="t" id="t240" style="left:1007.00px;top:662.08px;font-family:'Liberation Mono', monospace;font-size:15.5px;line-height:15.5px;color:#ececec;">GT</div>
<div class="t" id="t241" style="left:1083.00px;top:665.11px;font-family:'Liberation Mono', monospace;font-size:10.9px;line-height:10.9px;color:#ececec;font-weight:bold;">Signed &gt;</div>
<div class="t" id="t242" style="left:1210.25px;top:664.95px;font-family:'Liberation Mono', monospace;font-size:11.5px;line-height:11.5px;color:#ececec;transform:scaleX(0.9966);">(Z==0)&amp;&amp;(N==V)</div>
<div class="t" id="t243" style="left:1007.00px;top:688.81px;font-family:'Liberation Mono', monospace;font-size:15.5px;line-height:15.5px;color:#ececec;">LT</div>
<div class="t" id="t244" style="left:1083.00px;top:691.84px;font-family:'Liberation Mono', monospace;font-size:10.9px;line-height:10.9px;color:#ececec;font-weight:bold;">Signed &lt;</div>
<div class="t" id="t245" style="left:1236.79px;top:691.29px;font-family:'Liberation Mono', monospace;font-size:12px;line-height:12px;color:#ececec;">N != V</div>
<div class="t" id="t246" style="left:1007.00px;top:715.54px;font-family:'Liberation Mono', monospace;font-size:15.5px;line-height:15.5px;color:#ececec;">GE</div>
<div class="t" id="t247" style="left:1083.00px;top:718.57px;font-family:'Liberation Mono', monospace;font-size:10.9px;line-height:10.9px;color:#ececec;font-weight:bold;">Signed &gt;=</div>
<div class="t" id="t248" style="left:1236.79px;top:718.02px;font-family:'Liberation Mono', monospace;font-size:12px;line-height:12px;color:#ececec;">N == V</div>
<div class="t" id="t249" style="left:1007.00px;top:742.27px;font-family:'Liberation Mono', monospace;font-size:15.5px;line-height:15.5px;color:#ececec;">LE</div>
<div class="t" id="t250" style="left:1083.00px;top:745.30px;font-family:'Liberation Mono', monospace;font-size:10.9px;line-height:10.9px;color:#ececec;font-weight:bold;">Signed &lt;=</div>
<div class="t" id="t251" style="left:1203.40px;top:745.14px;font-family:'Liberation Mono', monospace;font-size:11.5px;line-height:11.5px;color:#ececec;transform:scaleX(0.9962);">(Z==1) || (N!=V)</div>
<div class="t" id="t252" style="left:979.09px;top:769.00px;font-family:'Liberation Mono', monospace;font-size:15.5px;line-height:15.5px;color:#ececec;">CS or HS</div>
<div class="t" id="t253" style="left:1083.00px;top:772.03px;font-family:'Liberation Mono', monospace;font-size:10.9px;line-height:10.9px;color:#ececec;font-weight:bold;">U. Higher or Same</div>
<div class="t" id="t254" style="left:1236.79px;top:771.48px;font-family:'Liberation Mono', monospace;font-size:12px;line-height:12px;color:#ececec;">C == 1</div>
<div class="t" id="t255" style="left:979.09px;top:795.73px;font-family:'Liberation Mono', monospace;font-size:15.5px;line-height:15.5px;color:#ececec;">CC or LO</div>
<div class="t" id="t256" style="left:1083.00px;top:798.76px;font-family:'Liberation Mono', monospace;font-size:10.9px;line-height:10.9px;color:#ececec;font-weight:bold;">U. Lower</div>
<div class="t" id="t257" style="left:1236.79px;top:798.21px;font-family:'Liberation Mono', monospace;font-size:12px;line-height:12px;color:#ececec;">C == 0</div>
<div class="t" id="t258" style="left:1007.00px;top:822.46px;font-family:'Liberation Mono', monospace;font-size:15.5px;line-height:15.5px;color:#ececec;">MI</div>
<div class="t" id="t259" style="left:1083.00px;top:825.49px;font-family:'Liberation Mono', monospace;font-size:10.9px;line-height:10.9px;color:#ececec;font-weight:bold;">Negative -</div>
<div class="t" id="t260" style="left:1236.79px;top:824.94px;font-family:'Liberation Mono', monospace;font-size:12px;line-height:12px;color:#ececec;">N == 1</div>
<div class="t" id="t261" style="left:1007.00px;top:849.19px;font-family:'Liberation Mono', monospace;font-size:15.5px;line-height:15.5px;color:#ececec;">PL</div>
<div class="t" id="t262" style="left:1083.00px;top:852.22px;font-family:'Liberation Mono', monospace;font-size:10.9px;line-height:10.9px;color:#ececec;font-weight:bold;">Positive +</div>
<div class="t" id="t263" style="left:1236.79px;top:851.67px;font-family:'Liberation Mono', monospace;font-size:12px;line-height:12px;color:#ececec;">N == 0</div>
<div class="t" id="t264" style="left:1007.00px;top:875.92px;font-family:'Liberation Mono', monospace;font-size:15.5px;line-height:15.5px;color:#ececec;">AL</div>
<div class="t" id="t265" style="left:1083.00px;top:878.95px;font-family:'Liberation Mono', monospace;font-size:10.9px;line-height:10.9px;color:#ececec;font-weight:bold;">Always executed</div>
<div class="t" id="t266" style="left:1254.80px;top:878.40px;font-family:'Liberation Mono', monospace;font-size:12px;line-height:12px;color:#ececec;">-</div>
<div class="t" id="t267" style="left:1007.00px;top:902.65px;font-family:'Liberation Mono', monospace;font-size:15.5px;line-height:15.5px;color:#ececec;">NV</div>
<div class="t" id="t268" style="left:1083.00px;top:905.68px;font-family:'Liberation Mono', monospace;font-size:10.9px;line-height:10.9px;color:#ececec;font-weight:bold;">Never executed</div>
<div class="t" id="t269" style="left:1254.80px;top:905.13px;font-family:'Liberation Mono', monospace;font-size:12px;line-height:12px;color:#ececec;">-</div>
<div class="t" id="t270" style="left:1007.00px;top:929.38px;font-family:'Liberation Mono', monospace;font-size:15.5px;line-height:15.5px;color:#ececec;">VS</div>
<div class="t" id="t271" style="left:1083.00px;top:932.41px;font-family:'Liberation Mono', monospace;font-size:10.9px;line-height:10.9px;color:#ececec;font-weight:bold;">S. Overflow</div>
<div class="t" id="t272" style="left:1236.79px;top:931.86px;font-family:'Liberation Mono', monospace;font-size:12px;line-height:12px;color:#ececec;">V == 1</div>
<div class="t" id="t273" style="left:1007.00px;top:956.11px;font-family:'Liberation Mono', monospace;font-size:15.5px;line-height:15.5px;color:#ececec;">VC</div>
<div class="t" id="t274" style="left:1083.00px;top:959.14px;font-family:'Liberation Mono', monospace;font-size:10.9px;line-height:10.9px;color:#ececec;font-weight:bold;">No Overflow</div>
<div class="t" id="t275" style="left:1236.79px;top:958.59px;font-family:'Liberation Mono', monospace;font-size:12px;line-height:12px;color:#ececec;">V == 0</div>
<div class="t" id="t276" style="left:1007.00px;top:982.84px;font-family:'Liberation Mono', monospace;font-size:15.5px;line-height:15.5px;color:#ececec;">HI</div>
<div class="t" id="t277" style="left:1083.00px;top:985.87px;font-family:'Liberation Mono', monospace;font-size:10.9px;line-height:10.9px;color:#ececec;font-weight:bold;">U. Higher</div>
<div class="t" id="t278" style="left:1210.25px;top:985.71px;font-family:'Liberation Mono', monospace;font-size:11.5px;line-height:11.5px;color:#ececec;transform:scaleX(0.9966);">(C==1)&amp;&amp;(Z==0)</div>
<div class="t" id="t279" style="left:1007.00px;top:1009.57px;font-family:'Liberation Mono', monospace;font-size:15.5px;line-height:15.5px;color:#ececec;">LS</div>
<div class="t" id="t280" style="left:1083.00px;top:1012.60px;font-family:'Liberation Mono', monospace;font-size:10.9px;line-height:10.9px;color:#ececec;font-weight:bold;">U. Lower or same</div>
<div class="t" id="t281" style="left:1210.25px;top:1012.44px;font-family:'Liberation Mono', monospace;font-size:11.5px;line-height:11.5px;color:#ececec;transform:scaleX(0.9966);">(C==0)||(Z==0)</div>
<div class="t" id="t282" style="left:1555.00px;top:526.56px;font-family:'Liberation Serif', serif;font-size:17px;line-height:17px;color:#f4f4f4;font-weight:bold;transform:scaleX(1.0091);">CPSR / APSR</div>
<div class="t" id="t283" style="left:1522.20px;top:551.71px;font-family:'Liberation Mono', monospace;font-size:8.6px;line-height:8.6px;color:#eaeaea;transform:scaleX(0.9977);">(Current Program Status Register)</div>
<div class="t" id="t284" style="left:1363.30px;top:584.99px;font-family:'Liberation Mono', monospace;font-size:14.5px;line-height:14.5px;color:#f0f0f0;">N</div>
<div class="t" id="t285" style="left:1386.55px;top:584.99px;font-family:'Liberation Mono', monospace;font-size:14.5px;line-height:14.5px;color:#f0f0f0;">Z</div>
<div class="t" id="t286" style="left:1409.95px;top:584.99px;font-family:'Liberation Mono', monospace;font-size:14.5px;line-height:14.5px;color:#f0f0f0;">C</div>
<div class="t" id="t287" style="left:1433.40px;top:584.99px;font-family:'Liberation Mono', monospace;font-size:14.5px;line-height:14.5px;color:#f0f0f0;">V</div>
<div class="t" id="t288" style="left:1456.50px;top:584.99px;font-family:'Liberation Mono', monospace;font-size:14.5px;line-height:14.5px;color:#f0f0f0;">Q</div>
<div class="t" id="t289" style="left:1521.15px;top:584.99px;font-family:'Liberation Mono', monospace;font-size:14.5px;line-height:14.5px;color:#f0f0f0;">J</div>
<div class="t" id="t290" style="left:1602.00px;top:584.99px;font-family:'Liberation Mono', monospace;font-size:14.5px;line-height:14.5px;color:#f0f0f0;">GE</div>
<div class="t" id="t291" style="left:1689.90px;top:584.99px;font-family:'Liberation Mono', monospace;font-size:14.5px;line-height:14.5px;color:#f0f0f0;">E</div>
<div class="t" id="t292" style="left:1713.60px;top:584.99px;font-family:'Liberation Mono', monospace;font-size:14.5px;line-height:14.5px;color:#f0f0f0;">A</div>
<div class="t" id="t293" style="left:1737.00px;top:584.99px;font-family:'Liberation Mono', monospace;font-size:14.5px;line-height:14.5px;color:#f0f0f0;">I</div>
<div class="t" id="t294" style="left:1760.15px;top:584.99px;font-family:'Liberation Mono', monospace;font-size:14.5px;line-height:14.5px;color:#f0f0f0;">F</div>
<div class="t" id="t295" style="left:1782.95px;top:584.99px;font-family:'Liberation Mono', monospace;font-size:14.5px;line-height:14.5px;color:#f0f0f0;">T</div>
<div class="t" id="t296" style="left:1824.00px;top:584.99px;font-family:'Liberation Mono', monospace;font-size:14.5px;line-height:14.5px;color:#f0f0f0;">M</div>
<div class="t" id="t297" style="left:1350.60px;top:624.70px;font-family:'Liberation Mono', monospace;font-size:12px;line-height:12px;color:#ececec;">Cmp/Test Instructions</div>
<div class="t" id="t298" style="left:1350.60px;top:646.70px;font-family:'Liberation Mono', monospace;font-size:12px;line-height:12px;color:#ececec;"><span style="color:#1fbfd0;">CMP</span> (compare),</div>
<div class="t" id="t299" style="left:1350.60px;top:668.50px;font-family:'Liberation Mono', monospace;font-size:12px;line-height:12px;color:#ececec;"><span style="color:#1fbfd0;">CMN</span> (compare negative),</div>
<div class="t" id="t300" style="left:1350.60px;top:690.50px;font-family:'Liberation Mono', monospace;font-size:12px;line-height:12px;color:#ececec;"><span style="color:#1fbfd0;">TEQ</span> (test equivalence),</div>
<div class="t" id="t301" style="left:1350.60px;top:712.30px;font-family:'Liberation Mono', monospace;font-size:12px;line-height:12px;color:#ececec;"><span style="color:#1fbfd0;">TST</span> (test bits)</div>
<div class="t" id="t302" style="left:1539.40px;top:659.95px;font-family:'Liberation Mono', monospace;font-size:10.5px;line-height:10.5px;color:#fb5959;font-weight:bold;">always</div>
<div class="t" id="t303" style="left:1539.40px;top:673.05px;font-family:'Liberation Mono', monospace;font-size:10.5px;line-height:10.5px;color:#fb5959;font-weight:bold;">update</div>
<div class="t" id="t304" style="left:1539.40px;top:686.15px;font-family:'Liberation Mono', monospace;font-size:10.5px;line-height:10.5px;color:#fb5959;font-weight:bold;">flags.</div>
<div class="t" id="t305" style="left:1539.40px;top:699.25px;font-family:'Liberation Mono', monospace;font-size:10.5px;line-height:10.5px;color:#fb5959;font-weight:bold;">Registers</div>
<div class="t" id="t306" style="left:1539.40px;top:712.35px;font-family:'Liberation Mono', monospace;font-size:10.5px;line-height:10.5px;color:#fb5959;font-weight:bold;">unchanged.</div>
<div class="t" id="t307" style="left:1594.59px;top:629.15px;font-family:'Liberation Mono', monospace;font-size:10.5px;line-height:10.5px;color:#fb5959;font-weight:bold;">update</div>
<div class="t" id="t308" style="left:1600.88px;top:642.35px;font-family:'Liberation Mono', monospace;font-size:10.5px;line-height:10.5px;color:#fb5959;font-weight:bold;">flags</div>
<div class="t" id="t309" style="left:1607.18px;top:655.55px;font-family:'Liberation Mono', monospace;font-size:10.5px;line-height:10.5px;color:#fb5959;font-weight:bold;">only</div>
<div class="t" id="t310" style="left:1607.18px;top:668.75px;font-family:'Liberation Mono', monospace;font-size:10.5px;line-height:10.5px;color:#fb5959;font-weight:bold;">if S</div>
<div class="t" id="t311" style="left:1594.59px;top:681.95px;font-family:'Liberation Mono', monospace;font-size:10.5px;line-height:10.5px;color:#fb5959;font-weight:bold;">suffix</div>
<div class="t" id="t312" style="left:1613.49px;top:695.15px;font-family:'Liberation Mono', monospace;font-size:10.5px;line-height:10.5px;color:#fb5959;font-weight:bold;">set</div>
<div class="t" id="t313" style="left:1671.70px;top:627.10px;font-family:'Liberation Mono', monospace;font-size:12px;line-height:12px;color:#ececec;">Other instructions, like</div>
<div class="t" id="t314" style="left:1671.70px;top:649.40px;font-family:'Liberation Mono', monospace;font-size:12px;line-height:12px;color:#ececec;"><span style="color:#1fbfd0;">MOVS</span> (move, update flag)</div>
<div class="t" id="t315" style="left:1671.70px;top:671.30px;font-family:'Liberation Mono', monospace;font-size:12px;line-height:12px;color:#ececec;"><span style="color:#1fbfd0;">ADDS</span> (add, update flag)</div>
<div class="t" id="t316" style="left:1671.70px;top:693.60px;font-family:'Liberation Mono', monospace;font-size:12px;line-height:12px;color:#ececec;"><span style="color:#1fbfd0;">SUBS</span> (subtract, update flag)</div>
<div class="t" id="t317" style="left:1671.70px;top:715.80px;font-family:'Liberation Mono', monospace;font-size:12px;line-height:12px;color:#ececec;">[...]</div>
<div class="t" id="t318" style="left:1381.00px;top:772.13px;font-family:'Liberation Mono', monospace;font-size:10px;line-height:10px;color:#1fbfd0;">Example: CMP &amp; LT</div>
<div class="t" id="t319" style="left:1387.70px;top:801.00px;font-family:'Liberation Mono', monospace;font-size:12px;line-height:12px;color:#f0f0f0;">mov   r0, #2</div>
<div class="t" id="t320" style="left:1387.70px;top:815.50px;font-family:'Liberation Mono', monospace;font-size:12px;line-height:12px;color:#f0f0f0;">mov   r1, #4</div>
<div class="t" id="t321" style="left:1387.70px;top:830.00px;font-family:'Liberation Mono', monospace;font-size:12px;line-height:12px;color:#f0f0f0;"><span style="color:#fb5959;">cmp</span>   r0, r1</div>
<div class="t" id="t322" style="left:1387.70px;top:844.50px;font-family:'Liberation Mono', monospace;font-size:12px;line-height:12px;color:#f0f0f0;">mov<span style="color:#fb5959;">lt</span> r2, #4</div>
<div class="t" id="t323" style="left:1387.70px;top:859.00px;font-family:'Liberation Mono', monospace;font-size:12px;line-height:12px;color:#f0f0f0;">mov<span style="color:#fb5959;">gt</span> r2, #8</div>
<div class="t" id="t324" style="left:1489.80px;top:798.90px;font-family:'Liberation Mono', monospace;font-size:12px;line-height:12px;color:#f0f0f0;">r0 = 2</div>
<div class="t" id="t325" style="left:1489.80px;top:813.30px;font-family:'Liberation Mono', monospace;font-size:12px;line-height:12px;color:#f0f0f0;">r1 = 4</div>
<div class="t" id="t326" style="left:1489.80px;top:827.70px;font-family:'Liberation Mono', monospace;font-size:12px;line-height:12px;color:#f0f0f0;">r0 - r1 = 2 - 4 = -2</div>
<div class="t" id="t327" style="left:1489.80px;top:842.10px;font-family:'Liberation Mono', monospace;font-size:12px;line-height:12px;color:#f0f0f0;">(N != V) == <span style="color:#1e9e3e;">true</span></div>
<div class="t" id="t328" style="left:1489.80px;top:856.50px;font-family:'Liberation Mono', monospace;font-size:12px;line-height:12px;color:#f0f0f0;">(N == V) == <span style="color:#ff2020;">false</span></div>
<div class="t" id="t329" style="left:1671.55px;top:804.49px;font-family:'Liberation Mono', monospace;font-size:14.5px;line-height:14.5px;color:#f0f0f0;">N</div>
<div class="t" id="t330" style="left:1672.60px;top:833.07px;font-family:'Liberation Mono', monospace;font-size:11px;line-height:11px;color:#f0f0f0;">1</div>
<div class="t" id="t331" style="left:1694.90px;top:804.49px;font-family:'Liberation Mono', monospace;font-size:14.5px;line-height:14.5px;color:#f0f0f0;">Z</div>
<div class="t" id="t332" style="left:1695.95px;top:833.07px;font-family:'Liberation Mono', monospace;font-size:11px;line-height:11px;color:#f0f0f0;">0</div>
<div class="t" id="t333" style="left:1718.25px;top:804.49px;font-family:'Liberation Mono', monospace;font-size:14.5px;line-height:14.5px;color:#f0f0f0;">C</div>
<div class="t" id="t334" style="left:1719.30px;top:833.07px;font-family:'Liberation Mono', monospace;font-size:11px;line-height:11px;color:#f0f0f0;">0</div>
<div class="t" id="t335" style="left:1741.60px;top:804.49px;font-family:'Liberation Mono', monospace;font-size:14.5px;line-height:14.5px;color:#f0f0f0;">V</div>
<div class="t" id="t336" style="left:1742.65px;top:833.07px;font-family:'Liberation Mono', monospace;font-size:11px;line-height:11px;color:#f0f0f0;">0</div>
<div class="t" id="t337" style="left:1764.95px;top:804.49px;font-family:'Liberation Mono', monospace;font-size:14.5px;line-height:14.5px;color:#f0f0f0;">Q</div>
<div class="t" id="t338" style="left:1766.00px;top:833.07px;font-family:'Liberation Mono', monospace;font-size:11px;line-height:11px;color:#f0f0f0;">0</div>
<div class="t" id="t339" style="left:1788.80px;top:801.90px;font-family:'Liberation Mono', monospace;font-size:12px;line-height:12px;color:#f0f0f0;">[...]</div>
<div class="t" id="t340" style="left:1637.70px;top:840.95px;font-family:'Liberation Mono', monospace;font-size:10.5px;line-height:10.5px;color:#fb5959;font-weight:bold;">set</div>
<div class="t" id="t341" style="left:1637.70px;top:854.65px;font-family:'Liberation Mono', monospace;font-size:10.5px;line-height:10.5px;color:#fb5959;font-weight:bold;">negative flag</div>
<div class="t" id="t342" style="left:1381.00px;top:909.84px;font-family:'Liberation Mono', monospace;font-size:10px;line-height:10px;color:#1fbfd0;">Example: CMP &amp; EQ</div>
<div class="t" id="t343" style="left:1387.70px;top:940.10px;font-family:'Liberation Mono', monospace;font-size:12px;line-height:12px;color:#f0f0f0;">mov   r0, #2</div>
<div class="t" id="t344" style="left:1387.70px;top:954.60px;font-family:'Liberation Mono', monospace;font-size:12px;line-height:12px;color:#f0f0f0;">mov   r1, #2</div>
<div class="t" id="t345" style="left:1387.70px;top:969.10px;font-family:'Liberation Mono', monospace;font-size:12px;line-height:12px;color:#f0f0f0;"><span style="color:#fb5959;">cmp</span>   r0, r1</div>
<div class="t" id="t346" style="left:1387.70px;top:983.60px;font-family:'Liberation Mono', monospace;font-size:12px;line-height:12px;color:#f0f0f0;">b<span style="color:#fb5959;">eq</span>   func1</div>
<div class="t" id="t347" style="left:1387.70px;top:998.10px;font-family:'Liberation Mono', monospace;font-size:12px;line-height:12px;color:#f0f0f0;">mov   r2, #8</div>
<div class="t" id="t348" style="left:1489.80px;top:938.00px;font-family:'Liberation Mono', monospace;font-size:12px;line-height:12px;color:#f0f0f0;">r0 = 2</div>
<div class="t" id="t349" style="left:1489.80px;top:952.40px;font-family:'Liberation Mono', monospace;font-size:12px;line-height:12px;color:#f0f0f0;">r1 = 2</div>
<div class="t" id="t350" style="left:1489.80px;top:966.80px;font-family:'Liberation Mono', monospace;font-size:12px;line-height:12px;color:#f0f0f0;">r0 - r1 = 2 - 2 = 0</div>
<div class="t" id="t351" style="left:1489.80px;top:981.20px;font-family:'Liberation Mono', monospace;font-size:12px;line-height:12px;color:#f0f0f0;">(Z == 1) == <span style="color:#1e9e3e;">true</span></div>
<div class="t" id="t352" style="left:1671.55px;top:943.59px;font-family:'Liberation Mono', monospace;font-size:14.5px;line-height:14.5px;color:#f0f0f0;">N</div>
<div class="t" id="t353" style="left:1672.60px;top:972.17px;font-family:'Liberation Mono', monospace;font-size:11px;line-height:11px;color:#f0f0f0;">0</div>
<div class="t" id="t354" style="left:1694.90px;top:943.59px;font-family:'Liberation Mono', monospace;font-size:14.5px;line-height:14.5px;color:#f0f0f0;">Z</div>
<div class="t" id="t355" style="left:1695.95px;top:972.17px;font-family:'Liberation Mono', monospace;font-size:11px;line-height:11px;color:#f0f0f0;">1</div>
<div class="t" id="t356" style="left:1718.25px;top:943.59px;font-family:'Liberation Mono', monospace;font-size:14.5px;line-height:14.5px;color:#f0f0f0;">C</div>
<div class="t" id="t357" style="left:1719.30px;top:972.17px;font-family:'Liberation Mono', monospace;font-size:11px;line-height:11px;color:#f0f0f0;">1</div>
<div class="t" id="t358" style="left:1741.60px;top:943.59px;font-family:'Liberation Mono', monospace;font-size:14.5px;line-height:14.5px;color:#f0f0f0;">V</div>
<div class="t" id="t359" style="left:1742.65px;top:972.17px;font-family:'Liberation Mono', monospace;font-size:11px;line-height:11px;color:#f0f0f0;">0</div>
<div class="t" id="t360" style="left:1764.95px;top:943.59px;font-family:'Liberation Mono', monospace;font-size:14.5px;line-height:14.5px;color:#f0f0f0;">Q</div>
<div class="t" id="t361" style="left:1766.00px;top:972.17px;font-family:'Liberation Mono', monospace;font-size:11px;line-height:11px;color:#f0f0f0;">0</div>
<div class="t" id="t362" style="left:1788.80px;top:941.00px;font-family:'Liberation Mono', monospace;font-size:12px;line-height:12px;color:#f0f0f0;">[...]</div>
<div class="t" id="t363" style="left:1622.50px;top:997.55px;font-family:'Liberation Mono', monospace;font-size:10.5px;line-height:10.5px;color:#fb5959;font-weight:bold;">set zero flag</div>
<div class="t" id="t364" style="left:1873.63px;top:1022.50px;font-family:'Liberation Mono', monospace;font-size:10px;line-height:10px;color:#cfcfcf;transform:rotate(-90deg) scaleX(1.0758);">Version 1.1 by @Fox0x01</div>
<div class="t" id="t365" style="left:1878.36px;top:1020.40px;font-family:'Liberation Serif', serif;font-size:33px;line-height:33px;color:#a02a2a;font-weight:bold;transform:rotate(-90deg) scaleX(0.8414);-webkit-text-stroke:1px #3a0808;text-shadow:1px 0 1px #000;">AZERIA</div>
<div class="t" id="t366" style="left:1889.90px;top:909.50px;font-family:'Liberation Serif', serif;font-size:16px;line-height:16px;color:#e05252;transform:rotate(-90deg) scaleX(0.9622);">-<span style="font-size:0.84em">LABS</span>.<span style="font-size:0.84em">COM</span></div>
</body></html>
